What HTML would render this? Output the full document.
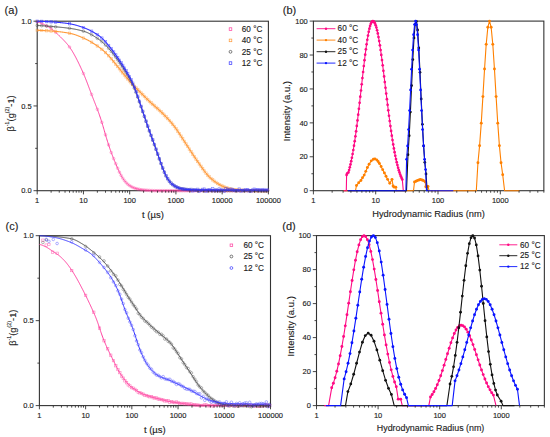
<!DOCTYPE html>
<html><head><meta charset="utf-8"><style>
html,body{margin:0;padding:0;background:#fff;}
body{width:550px;height:437px;overflow:hidden;}
svg{display:block;}
text{font-family:"Liberation Sans", sans-serif;stroke:#222;stroke-width:0.13px;}
</style></head><body>
<svg width="550" height="437" viewBox="0 0 550 437" font-family='"Liberation Sans", sans-serif' fill="#222"><rect width="550" height="437" fill="#fff"/><rect x="37.2" y="21.2" width="231.2" height="169.5" fill="none" stroke="#333" stroke-width="1.1"/><path d="M37.2 21.79 L37.59 21.87 L37.97 21.97 L38.36 22.08 L38.74 22.21 L39.13 22.34 L39.52 22.49 L39.9 22.64 L40.29 22.8 L40.67 22.97 L41.06 23.13 L41.45 23.3 L41.83 23.48 L42.22 23.66 L42.6 23.84 L42.99 24.02 L43.38 24.2 L43.76 24.39 L44.15 24.58 L44.53 24.77 L44.92 24.96 L45.31 25.16 L45.69 25.35 L46.08 25.55 L46.46 25.75 L46.85 25.96 L47.24 26.17 L47.62 26.38 L48.01 26.6 L48.39 26.82 L48.78 27.04 L49.17 27.27 L49.55 27.51 L49.94 27.75 L50.32 28.01 L50.71 28.27 L51.1 28.53 L51.48 28.81 L51.87 29.1 L52.25 29.39 L52.64 29.7 L53.03 30.01 L53.41 30.33 L53.8 30.66 L54.18 31 L54.57 31.35 L54.95 31.7 L55.34 32.05 L55.73 32.41 L56.11 32.77 L56.5 33.13 L56.88 33.49 L57.27 33.86 L57.66 34.23 L58.04 34.59 L58.43 34.96 L58.81 35.33 L59.2 35.7 L59.59 36.07 L59.97 36.45 L60.36 36.82 L60.74 37.2 L61.13 37.58 L61.52 37.97 L61.9 38.36 L62.29 38.75 L62.67 39.14 L63.06 39.54 L63.45 39.94 L63.83 40.35 L64.22 40.76 L64.6 41.17 L64.99 41.58 L65.38 42 L65.76 42.43 L66.15 42.86 L66.53 43.3 L66.92 43.74 L67.31 44.2 L67.69 44.66 L68.08 45.14 L68.46 45.63 L68.85 46.13 L69.24 46.65 L69.62 47.18 L70.01 47.72 L70.39 48.28 L70.78 48.85 L71.17 49.44 L71.55 50.04 L71.94 50.65 L72.32 51.28 L72.71 51.92 L73.1 52.58 L73.48 53.24 L73.87 53.92 L74.25 54.61 L74.64 55.3 L75.03 56.01 L75.41 56.73 L75.8 57.46 L76.18 58.2 L76.57 58.95 L76.96 59.71 L77.34 60.47 L77.73 61.25 L78.11 62.03 L78.5 62.82 L78.89 63.61 L79.27 64.42 L79.66 65.23 L80.04 66.04 L80.43 66.86 L80.82 67.69 L81.2 68.53 L81.59 69.37 L81.97 70.22 L82.36 71.07 L82.75 71.94 L83.13 72.81 L83.52 73.7 L83.9 74.6 L84.29 75.51 L84.68 76.43 L85.06 77.37 L85.45 78.33 L85.83 79.3 L86.22 80.28 L86.61 81.27 L86.99 82.27 L87.38 83.28 L87.76 84.3 L88.15 85.32 L88.53 86.35 L88.92 87.38 L89.31 88.41 L89.69 89.44 L90.08 90.46 L90.46 91.49 L90.85 92.51 L91.24 93.53 L91.62 94.54 L92.01 95.56 L92.39 96.56 L92.78 97.56 L93.17 98.56 L93.55 99.55 L93.94 100.54 L94.32 101.52 L94.71 102.5 L95.1 103.48 L95.48 104.46 L95.87 105.44 L96.25 106.42 L96.64 107.42 L97.03 108.42 L97.41 109.44 L97.8 110.47 L98.18 111.52 L98.57 112.58 L98.96 113.66 L99.34 114.76 L99.73 115.88 L100.11 117.02 L100.5 118.17 L100.89 119.35 L101.27 120.54 L101.66 121.76 L102.04 122.99 L102.43 124.25 L102.82 125.53 L103.2 126.83 L103.59 128.14 L103.97 129.47 L104.36 130.8 L104.75 132.14 L105.13 133.48 L105.52 134.81 L105.9 136.12 L106.29 137.43 L106.68 138.72 L107.06 139.98 L107.45 141.23 L107.83 142.46 L108.22 143.67 L108.61 144.86 L108.99 146.03 L109.38 147.17 L109.76 148.3 L110.15 149.41 L110.54 150.5 L110.92 151.57 L111.31 152.63 L111.69 153.66 L112.08 154.67 L112.47 155.67 L112.85 156.66 L113.24 157.63 L113.62 158.59 L114.01 159.54 L114.4 160.49 L114.78 161.43 L115.17 162.36 L115.55 163.29 L115.94 164.22 L116.33 165.14 L116.71 166.06 L117.1 166.96 L117.48 167.86 L117.87 168.74 L118.26 169.61 L118.64 170.46 L119.03 171.3 L119.41 172.11 L119.8 172.9 L120.18 173.67 L120.57 174.41 L120.96 175.14 L121.34 175.84 L121.73 176.52 L122.11 177.17 L122.5 177.81 L122.89 178.42 L123.27 179 L123.66 179.56 L124.04 180.1 L124.43 180.62 L124.82 181.11 L125.2 181.58 L125.59 182.04 L125.97 182.47 L126.36 182.88 L126.75 183.27 L127.13 183.64 L127.52 183.99 L127.9 184.33 L128.29 184.65 L128.68 184.95 L129.06 185.23 L129.45 185.51 L129.83 185.77 L130.22 186.01 L130.61 186.25 L130.99 186.48 L131.38 186.69 L131.76 186.9 L132.15 187.1 L132.54 187.29 L132.92 187.46 L133.31 187.63 L133.69 187.79 L134.08 187.94 L134.47 188.08 L134.85 188.22 L135.24 188.34 L135.62 188.46 L136.01 188.58 L136.4 188.69 L136.78 188.79 L137.17 188.89 L137.55 188.98 L137.94 189.08 L138.33 189.17 L138.71 189.25 L139.1 189.33 L139.48 189.41 L139.87 189.48 L140.26 189.55 L140.64 189.62 L141.03 189.68 L141.41 189.74 L141.8 189.79 L142.19 189.85 L142.57 189.89 L142.96 189.94 L143.34 189.98 L143.73 190.02 L144.12 190.05 L144.5 190.09 L144.89 190.12 L145.27 190.15 L145.66 190.18 L146.05 190.21 L146.43 190.24 L146.82 190.27 L147.2 190.3 L147.59 190.32 L147.98 190.35 L148.36 190.37 L148.75 190.4 L149.13 190.42 L149.52 190.44 L149.91 190.46 L150.29 190.49 L150.68 190.51 L151.06 190.52 L151.45 190.54 L151.84 190.56 L152.22 190.58 L152.61 190.59 L152.99 190.61 L153.38 190.62 L153.76 190.63 L154.15 190.64 L154.54 190.65 L154.92 190.66 L155.31 190.67 L155.69 190.68 L156.08 190.68 L156.47 190.69 L156.85 190.69 L157.24 190.69 L157.62 190.7 L158.01 190.7 L158.4 190.7 L158.78 190.7 L159.17 190.7 L159.55 190.7 L159.94 190.7 L160.33 190.7 L160.71 190.7 L161.1 190.7 L161.48 190.7 L161.87 190.7 L162.26 190.7 L162.64 190.7 L163.03 190.7 L163.41 190.7 L163.8 190.7 L164.19 190.7 L164.57 190.7 L164.96 190.7 L165.34 190.7 L165.73 190.7 L166.12 190.7 L166.5 190.7 L166.89 190.7 L167.27 190.7 L167.66 190.7 L168.05 190.7 L168.43 190.7 L168.82 190.7 L169.2 190.7 L169.59 190.7 L169.98 190.7 L170.36 190.7 L170.75 190.7 L171.13 190.7 L171.52 190.7 L171.91 190.7 L172.29 190.7 L172.68 190.7 L173.06 190.7 L173.45 190.7 L173.84 190.7 L174.22 190.7 L174.61 190.7 L174.99 190.7 L175.38 190.7 L175.77 190.7 L176.15 190.7 L176.54 190.7 L176.92 190.7 L177.31 190.7 L177.7 190.7 L178.08 190.7 L178.47 190.7 L178.85 190.7 L179.24 190.7 L179.63 190.7 L180.01 190.7 L180.4 190.7 L180.78 190.7 L181.17 190.7 L181.56 190.7 L181.94 190.7 L182.33 190.7 L182.71 190.7 L183.1 190.7 L183.49 190.7 L183.87 190.7 L184.26 190.7 L184.64 190.7 L185.03 190.7 L185.42 190.7 L185.8 190.7 L186.19 190.7 L186.57 190.7 L186.96 190.7 L187.34 190.7 L187.73 190.7 L188.12 190.7 L188.5 190.7 L188.89 190.7 L189.27 190.7 L189.66 190.7 L190.05 190.7 L190.43 190.7 L190.82 190.7 L191.2 190.7 L191.59 190.7 L191.98 190.7 L192.36 190.7 L192.75 190.7 L193.13 190.7 L193.52 190.7 L193.91 190.7 L194.29 190.7 L194.68 190.7 L195.06 190.7 L195.45 190.7 L195.84 190.7 L196.22 190.7 L196.61 190.7 L196.99 190.7 L197.38 190.7 L197.77 190.7 L198.15 190.7 L198.54 190.7 L198.92 190.7 L199.31 190.7 L199.7 190.7 L200.08 190.7 L200.47 190.7 L200.85 190.7 L201.24 190.7 L201.63 190.7 L202.01 190.7 L202.4 190.7 L202.78 190.7 L203.17 190.7 L203.56 190.7 L203.94 190.7 L204.33 190.7 L204.71 190.7 L205.1 190.7 L205.49 190.7 L205.87 190.7 L206.26 190.7 L206.64 190.7 L207.03 190.7 L207.42 190.7 L207.8 190.7 L208.19 190.7 L208.57 190.7 L208.96 190.7 L209.35 190.7 L209.73 190.7 L210.12 190.7 L210.5 190.7 L210.89 190.7 L211.28 190.7 L211.66 190.7 L212.05 190.7 L212.43 190.7 L212.82 190.7 L213.21 190.7 L213.59 190.7 L213.98 190.7 L214.36 190.7 L214.75 190.7 L215.14 190.7 L215.52 190.7 L215.91 190.7 L216.29 190.7 L216.68 190.7 L217.07 190.7 L217.45 190.7 L217.84 190.7 L218.22 190.7 L218.61 190.7 L218.99 190.7 L219.38 190.7 L219.77 190.7 L220.15 190.7 L220.54 190.7 L220.92 190.7 L221.31 190.7 L221.7 190.7 L222.08 190.7 L222.47 190.7 L222.85 190.7 L223.24 190.7 L223.63 190.7 L224.01 190.7 L224.4 190.7 L224.78 190.7 L225.17 190.7 L225.56 190.7 L225.94 190.7 L226.33 190.7 L226.71 190.7 L227.1 190.7 L227.49 190.7 L227.87 190.7 L228.26 190.7 L228.64 190.7 L229.03 190.7 L229.42 190.7 L229.8 190.7 L230.19 190.7 L230.57 190.7 L230.96 190.7 L231.35 190.7 L231.73 190.7 L232.12 190.7 L232.5 190.7 L232.89 190.7 L233.28 190.7 L233.66 190.7 L234.05 190.7 L234.43 190.7 L234.82 190.7 L235.21 190.7 L235.59 190.7 L235.98 190.7 L236.36 190.7 L236.75 190.7 L237.14 190.7 L237.52 190.7 L237.91 190.7 L238.29 190.7 L238.68 190.7 L239.07 190.7 L239.45 190.7 L239.84 190.7 L240.22 190.7 L240.61 190.7 L241 190.7 L241.38 190.7 L241.77 190.7 L242.15 190.7 L242.54 190.7 L242.93 190.7 L243.31 190.7 L243.7 190.7 L244.08 190.7 L244.47 190.7 L244.86 190.7 L245.24 190.7 L245.63 190.7 L246.01 190.7 L246.4 190.7 L246.79 190.7 L247.17 190.7 L247.56 190.7 L247.94 190.7 L248.33 190.7 L248.72 190.7 L249.1 190.7 L249.49 190.7 L249.87 190.7 L250.26 190.7 L250.65 190.7 L251.03 190.7 L251.42 190.7 L251.8 190.7 L252.19 190.7 L252.57 190.7 L252.96 190.7 L253.35 190.7 L253.73 190.7 L254.12 190.7 L254.5 190.7 L254.89 190.7 L255.28 190.7 L255.66 190.7 L256.05 190.7 L256.43 190.7 L256.82 190.7 L257.21 190.7 L257.59 190.7 L257.98 190.7 L258.36 190.7 L258.75 190.7 L259.14 190.7 L259.52 190.7 L259.91 190.7 L260.29 190.7 L260.68 190.7 L261.07 190.7 L261.45 190.7 L261.84 190.7 L262.22 190.7 L262.61 190.7 L263 190.7 L263.38 190.7 L263.77 190.7 L264.15 190.7 L264.54 190.7 L264.93 190.7 L265.31 190.7 L265.7 190.7 L266.08 190.7 L266.47 190.7 L266.86 190.7 L267.24 190.7 L267.63 190.7 L268.01 190.7 L268.4 190.7" fill="none" stroke="#ff3d9e" stroke-width="1.0"/><g fill="none" stroke="#ff3d9e" stroke-width="0.6" opacity="0.65"><circle cx="37.2" cy="21.79" r="1.3"/><circle cx="41.68" cy="23.41" r="1.3"/><circle cx="46.64" cy="25.85" r="1.3"/><circle cx="51.12" cy="28.55" r="1.3"/><circle cx="55.6" cy="32.29" r="1.3"/><circle cx="69.52" cy="47.03" r="1.3"/><circle cx="83.44" cy="73.52" r="1.3"/><circle cx="91.58" cy="94.44" r="1.3"/><circle cx="97.36" cy="109.3" r="1.3"/><circle cx="101.84" cy="122.34" r="1.3"/><circle cx="105.5" cy="134.75" r="1.3"/><circle cx="108.6" cy="144.83" r="1.3"/><circle cx="111.28" cy="152.55" r="1.3"/><circle cx="113.64" cy="158.64" r="1.3"/><circle cx="115.76" cy="163.79" r="1.3"/><circle cx="117.67" cy="168.3" r="1.3"/><circle cx="119.42" cy="172.13" r="1.3"/><circle cx="121.09" cy="175.37" r="1.3"/><circle cx="122.75" cy="178.2" r="1.3"/><circle cx="124.42" cy="180.6" r="1.3"/><circle cx="126.08" cy="182.58" r="1.3"/><circle cx="127.74" cy="184.19" r="1.3"/><circle cx="129.41" cy="185.48" r="1.3"/><circle cx="131.07" cy="186.52" r="1.3"/><circle cx="132.74" cy="187.38" r="1.3"/><circle cx="134.4" cy="188.06" r="1.3"/><circle cx="136.07" cy="188.59" r="1.3"/><circle cx="137.73" cy="189.03" r="1.3"/><circle cx="139.4" cy="189.39" r="1.3"/><circle cx="141.06" cy="189.69" r="1.3"/><circle cx="142.73" cy="189.91" r="1.3"/><circle cx="144.39" cy="190.08" r="1.3"/><circle cx="146.06" cy="190.21" r="1.3"/><circle cx="147.72" cy="190.33" r="1.3"/><circle cx="149.39" cy="190.44" r="1.3"/><circle cx="151.05" cy="190.52" r="1.3"/><circle cx="152.71" cy="190.6" r="1.3"/><circle cx="154.38" cy="190.65" r="1.3"/><circle cx="156.04" cy="190.68" r="1.3"/><circle cx="157.71" cy="190.7" r="1.3"/><circle cx="159.37" cy="190.7" r="1.3"/><circle cx="161.04" cy="190.7" r="1.3"/><circle cx="162.7" cy="190.7" r="1.3"/><circle cx="164.37" cy="190.7" r="1.3"/><circle cx="166.03" cy="190.7" r="1.3"/><circle cx="167.7" cy="190.7" r="1.3"/><circle cx="169.36" cy="190.7" r="1.3"/><circle cx="171.03" cy="190.7" r="1.3"/><circle cx="172.69" cy="190.7" r="1.3"/><circle cx="174.35" cy="190.7" r="1.3"/><circle cx="176.02" cy="190.7" r="1.3"/><circle cx="177.68" cy="190.7" r="1.3"/><circle cx="179.35" cy="190.7" r="1.3"/><circle cx="181.01" cy="190.7" r="1.3"/><circle cx="182.68" cy="190.7" r="1.3"/><circle cx="184.34" cy="190.7" r="1.3"/><circle cx="186.01" cy="190.7" r="1.3"/><circle cx="187.67" cy="190.7" r="1.3"/><circle cx="189.34" cy="190.7" r="1.3"/><circle cx="191" cy="190.7" r="1.3"/><circle cx="192.67" cy="190.7" r="1.3"/><circle cx="194.33" cy="190.7" r="1.3"/><circle cx="196" cy="190.7" r="1.3"/><circle cx="197.66" cy="190.7" r="1.3"/><circle cx="199.32" cy="190.7" r="1.3"/><circle cx="200.99" cy="190.7" r="1.3"/><circle cx="202.65" cy="190.7" r="1.3"/><circle cx="204.32" cy="190.7" r="1.3"/><circle cx="205.98" cy="190.7" r="1.3"/><circle cx="207.65" cy="190.7" r="1.3"/><circle cx="209.31" cy="190.7" r="1.3"/><circle cx="210.98" cy="190.7" r="1.3"/><circle cx="212.64" cy="190.7" r="1.3"/><circle cx="214.31" cy="190.7" r="1.3"/><circle cx="215.97" cy="190.7" r="1.3"/><circle cx="217.64" cy="190.7" r="1.3"/><circle cx="219.3" cy="190.7" r="1.3"/><circle cx="220.96" cy="190.7" r="1.3"/><circle cx="222.63" cy="190.7" r="1.3"/><circle cx="224.29" cy="190.7" r="1.3"/><circle cx="225.96" cy="190.7" r="1.3"/><circle cx="227.62" cy="190.7" r="1.3"/><circle cx="229.29" cy="190.7" r="1.3"/><circle cx="230.95" cy="190.7" r="1.3"/><circle cx="232.62" cy="190.7" r="1.3"/><circle cx="234.28" cy="190.7" r="1.3"/><circle cx="235.95" cy="190.7" r="1.3"/><circle cx="237.61" cy="190.7" r="1.3"/><circle cx="239.28" cy="190.7" r="1.3"/><circle cx="240.94" cy="190.7" r="1.3"/><circle cx="242.61" cy="190.7" r="1.3"/><circle cx="244.27" cy="190.7" r="1.3"/><circle cx="245.93" cy="190.7" r="1.3"/><circle cx="247.6" cy="190.7" r="1.3"/><circle cx="249.26" cy="190.7" r="1.3"/><circle cx="250.93" cy="190.7" r="1.3"/><circle cx="252.59" cy="190.7" r="1.3"/><circle cx="254.26" cy="190.7" r="1.3"/><circle cx="255.92" cy="190.7" r="1.3"/><circle cx="257.59" cy="190.7" r="1.3"/><circle cx="259.25" cy="190.7" r="1.3"/><circle cx="260.92" cy="190.7" r="1.3"/><circle cx="262.58" cy="190.7" r="1.3"/><circle cx="264.25" cy="190.7" r="1.3"/><circle cx="265.91" cy="190.7" r="1.3"/><circle cx="267.57" cy="190.7" r="1.3"/></g><path d="M37.2 30.37 L37.59 30.37 L37.97 30.38 L38.36 30.39 L38.74 30.39 L39.13 30.4 L39.52 30.41 L39.9 30.42 L40.29 30.44 L40.67 30.45 L41.06 30.46 L41.45 30.48 L41.83 30.49 L42.22 30.51 L42.6 30.52 L42.99 30.54 L43.38 30.56 L43.76 30.58 L44.15 30.6 L44.53 30.62 L44.92 30.64 L45.31 30.66 L45.69 30.68 L46.08 30.7 L46.46 30.72 L46.85 30.74 L47.24 30.77 L47.62 30.79 L48.01 30.81 L48.39 30.84 L48.78 30.86 L49.17 30.89 L49.55 30.91 L49.94 30.94 L50.32 30.96 L50.71 30.99 L51.1 31.01 L51.48 31.04 L51.87 31.07 L52.25 31.1 L52.64 31.12 L53.03 31.15 L53.41 31.18 L53.8 31.21 L54.18 31.25 L54.57 31.28 L54.95 31.31 L55.34 31.34 L55.73 31.38 L56.11 31.41 L56.5 31.45 L56.88 31.49 L57.27 31.53 L57.66 31.56 L58.04 31.6 L58.43 31.65 L58.81 31.69 L59.2 31.73 L59.59 31.77 L59.97 31.82 L60.36 31.86 L60.74 31.91 L61.13 31.96 L61.52 32 L61.9 32.05 L62.29 32.1 L62.67 32.15 L63.06 32.21 L63.45 32.26 L63.83 32.31 L64.22 32.37 L64.6 32.43 L64.99 32.48 L65.38 32.54 L65.76 32.6 L66.15 32.66 L66.53 32.72 L66.92 32.79 L67.31 32.85 L67.69 32.92 L68.08 32.98 L68.46 33.05 L68.85 33.12 L69.24 33.2 L69.62 33.27 L70.01 33.35 L70.39 33.43 L70.78 33.52 L71.17 33.61 L71.55 33.7 L71.94 33.8 L72.32 33.9 L72.71 34 L73.1 34.11 L73.48 34.22 L73.87 34.34 L74.25 34.46 L74.64 34.58 L75.03 34.71 L75.41 34.83 L75.8 34.97 L76.18 35.1 L76.57 35.24 L76.96 35.38 L77.34 35.53 L77.73 35.67 L78.11 35.82 L78.5 35.97 L78.89 36.12 L79.27 36.28 L79.66 36.44 L80.04 36.59 L80.43 36.75 L80.82 36.91 L81.2 37.08 L81.59 37.24 L81.97 37.41 L82.36 37.57 L82.75 37.74 L83.13 37.91 L83.52 38.08 L83.9 38.25 L84.29 38.43 L84.68 38.6 L85.06 38.78 L85.45 38.96 L85.83 39.15 L86.22 39.33 L86.61 39.52 L86.99 39.71 L87.38 39.91 L87.76 40.11 L88.15 40.31 L88.53 40.51 L88.92 40.72 L89.31 40.93 L89.69 41.14 L90.08 41.36 L90.46 41.58 L90.85 41.8 L91.24 42.02 L91.62 42.25 L92.01 42.48 L92.39 42.71 L92.78 42.95 L93.17 43.19 L93.55 43.43 L93.94 43.67 L94.32 43.92 L94.71 44.17 L95.1 44.42 L95.48 44.67 L95.87 44.93 L96.25 45.19 L96.64 45.45 L97.03 45.72 L97.41 45.98 L97.8 46.25 L98.18 46.53 L98.57 46.8 L98.96 47.08 L99.34 47.37 L99.73 47.66 L100.11 47.95 L100.5 48.25 L100.89 48.55 L101.27 48.86 L101.66 49.17 L102.04 49.49 L102.43 49.82 L102.82 50.15 L103.2 50.49 L103.59 50.84 L103.97 51.19 L104.36 51.54 L104.75 51.9 L105.13 52.27 L105.52 52.64 L105.9 53.01 L106.29 53.39 L106.68 53.78 L107.06 54.17 L107.45 54.56 L107.83 54.96 L108.22 55.36 L108.61 55.77 L108.99 56.19 L109.38 56.61 L109.76 57.03 L110.15 57.47 L110.54 57.91 L110.92 58.35 L111.31 58.8 L111.69 59.25 L112.08 59.71 L112.47 60.17 L112.85 60.64 L113.24 61.11 L113.62 61.58 L114.01 62.05 L114.4 62.52 L114.78 62.99 L115.17 63.47 L115.55 63.94 L115.94 64.41 L116.33 64.89 L116.71 65.36 L117.1 65.84 L117.48 66.32 L117.87 66.79 L118.26 67.27 L118.64 67.75 L119.03 68.23 L119.41 68.72 L119.8 69.2 L120.18 69.68 L120.57 70.17 L120.96 70.65 L121.34 71.13 L121.73 71.61 L122.11 72.1 L122.5 72.57 L122.89 73.05 L123.27 73.53 L123.66 74 L124.04 74.47 L124.43 74.95 L124.82 75.41 L125.2 75.88 L125.59 76.35 L125.97 76.81 L126.36 77.27 L126.75 77.74 L127.13 78.2 L127.52 78.65 L127.9 79.11 L128.29 79.57 L128.68 80.02 L129.06 80.47 L129.45 80.92 L129.83 81.36 L130.22 81.81 L130.61 82.25 L130.99 82.68 L131.38 83.11 L131.76 83.54 L132.15 83.96 L132.54 84.38 L132.92 84.79 L133.31 85.2 L133.69 85.6 L134.08 86 L134.47 86.39 L134.85 86.79 L135.24 87.17 L135.62 87.56 L136.01 87.95 L136.4 88.33 L136.78 88.72 L137.17 89.1 L137.55 89.49 L137.94 89.87 L138.33 90.26 L138.71 90.65 L139.1 91.04 L139.48 91.43 L139.87 91.82 L140.26 92.21 L140.64 92.6 L141.03 92.99 L141.41 93.38 L141.8 93.77 L142.19 94.16 L142.57 94.55 L142.96 94.94 L143.34 95.33 L143.73 95.72 L144.12 96.11 L144.5 96.5 L144.89 96.89 L145.27 97.27 L145.66 97.66 L146.05 98.04 L146.43 98.42 L146.82 98.8 L147.2 99.18 L147.59 99.56 L147.98 99.94 L148.36 100.31 L148.75 100.68 L149.13 101.05 L149.52 101.42 L149.91 101.79 L150.29 102.15 L150.68 102.51 L151.06 102.87 L151.45 103.22 L151.84 103.57 L152.22 103.92 L152.61 104.27 L152.99 104.61 L153.38 104.95 L153.76 105.29 L154.15 105.63 L154.54 105.97 L154.92 106.31 L155.31 106.65 L155.69 106.99 L156.08 107.32 L156.47 107.66 L156.85 108 L157.24 108.34 L157.62 108.69 L158.01 109.03 L158.4 109.38 L158.78 109.73 L159.17 110.08 L159.55 110.43 L159.94 110.79 L160.33 111.15 L160.71 111.52 L161.1 111.88 L161.48 112.25 L161.87 112.63 L162.26 113.01 L162.64 113.39 L163.03 113.77 L163.41 114.16 L163.8 114.55 L164.19 114.94 L164.57 115.33 L164.96 115.73 L165.34 116.12 L165.73 116.53 L166.12 116.93 L166.5 117.33 L166.89 117.74 L167.27 118.16 L167.66 118.57 L168.05 118.99 L168.43 119.41 L168.82 119.84 L169.2 120.27 L169.59 120.7 L169.98 121.14 L170.36 121.58 L170.75 122.02 L171.13 122.47 L171.52 122.93 L171.91 123.39 L172.29 123.85 L172.68 124.33 L173.06 124.8 L173.45 125.29 L173.84 125.78 L174.22 126.28 L174.61 126.78 L174.99 127.29 L175.38 127.81 L175.77 128.34 L176.15 128.88 L176.54 129.43 L176.92 129.98 L177.31 130.54 L177.7 131.1 L178.08 131.67 L178.47 132.25 L178.85 132.83 L179.24 133.42 L179.63 134.01 L180.01 134.61 L180.4 135.2 L180.78 135.8 L181.17 136.41 L181.56 137.01 L181.94 137.61 L182.33 138.22 L182.71 138.82 L183.1 139.42 L183.49 140.03 L183.87 140.63 L184.26 141.23 L184.64 141.82 L185.03 142.42 L185.42 143.01 L185.8 143.6 L186.19 144.2 L186.57 144.79 L186.96 145.38 L187.34 145.97 L187.73 146.56 L188.12 147.15 L188.5 147.74 L188.89 148.33 L189.27 148.93 L189.66 149.52 L190.05 150.12 L190.43 150.71 L190.82 151.3 L191.2 151.9 L191.59 152.49 L191.98 153.08 L192.36 153.67 L192.75 154.26 L193.13 154.85 L193.52 155.43 L193.91 156.02 L194.29 156.59 L194.68 157.17 L195.06 157.75 L195.45 158.32 L195.84 158.88 L196.22 159.45 L196.61 160.01 L196.99 160.57 L197.38 161.13 L197.77 161.68 L198.15 162.23 L198.54 162.79 L198.92 163.34 L199.31 163.89 L199.7 164.44 L200.08 165 L200.47 165.55 L200.85 166.1 L201.24 166.65 L201.63 167.2 L202.01 167.75 L202.4 168.3 L202.78 168.84 L203.17 169.38 L203.56 169.91 L203.94 170.44 L204.33 170.97 L204.71 171.48 L205.1 171.99 L205.49 172.49 L205.87 172.99 L206.26 173.47 L206.64 173.94 L207.03 174.4 L207.42 174.85 L207.8 175.29 L208.19 175.72 L208.57 176.13 L208.96 176.53 L209.35 176.92 L209.73 177.3 L210.12 177.67 L210.5 178.03 L210.89 178.38 L211.28 178.72 L211.66 179.06 L212.05 179.38 L212.43 179.71 L212.82 180.02 L213.21 180.33 L213.59 180.64 L213.98 180.94 L214.36 181.23 L214.75 181.52 L215.14 181.81 L215.52 182.08 L215.91 182.36 L216.29 182.62 L216.68 182.89 L217.07 183.14 L217.45 183.39 L217.84 183.64 L218.22 183.88 L218.61 184.11 L218.99 184.34 L219.38 184.56 L219.77 184.77 L220.15 184.98 L220.54 185.18 L220.92 185.38 L221.31 185.58 L221.7 185.76 L222.08 185.95 L222.47 186.13 L222.85 186.3 L223.24 186.47 L223.63 186.64 L224.01 186.81 L224.4 186.97 L224.78 187.13 L225.17 187.28 L225.56 187.43 L225.94 187.58 L226.33 187.73 L226.71 187.87 L227.1 188 L227.49 188.13 L227.87 188.25 L228.26 188.37 L228.64 188.49 L229.03 188.6 L229.42 188.7 L229.8 188.79 L230.19 188.88 L230.57 188.97 L230.96 189.05 L231.35 189.13 L231.73 189.2 L232.12 189.26 L232.5 189.33 L232.89 189.39 L233.28 189.45 L233.66 189.5 L234.05 189.56 L234.43 189.61 L234.82 189.66 L235.21 189.72 L235.59 189.76 L235.98 189.81 L236.36 189.86 L236.75 189.9 L237.14 189.94 L237.52 189.98 L237.91 190.02 L238.29 190.06 L238.68 190.09 L239.07 190.13 L239.45 190.16 L239.84 190.19 L240.22 190.21 L240.61 190.24 L241 190.26 L241.38 190.28 L241.77 190.3 L242.15 190.32 L242.54 190.33 L242.93 190.35 L243.31 190.36 L243.7 190.37 L244.08 190.39 L244.47 190.4 L244.86 190.41 L245.24 190.42 L245.63 190.43 L246.01 190.43 L246.4 190.44 L246.79 190.45 L247.17 190.46 L247.56 190.47 L247.94 190.48 L248.33 190.49 L248.72 190.49 L249.1 190.5 L249.49 190.51 L249.87 190.52 L250.26 190.52 L250.65 190.53 L251.03 190.54 L251.42 190.55 L251.8 190.55 L252.19 190.56 L252.57 190.57 L252.96 190.57 L253.35 190.58 L253.73 190.58 L254.12 190.59 L254.5 190.6 L254.89 190.6 L255.28 190.61 L255.66 190.61 L256.05 190.62 L256.43 190.62 L256.82 190.63 L257.21 190.63 L257.59 190.64 L257.98 190.64 L258.36 190.64 L258.75 190.65 L259.14 190.65 L259.52 190.66 L259.91 190.66 L260.29 190.66 L260.68 190.67 L261.07 190.67 L261.45 190.67 L261.84 190.68 L262.22 190.68 L262.61 190.68 L263 190.68 L263.38 190.68 L263.77 190.69 L264.15 190.69 L264.54 190.69 L264.93 190.69 L265.31 190.69 L265.7 190.69 L266.08 190.7 L266.47 190.7 L266.86 190.7 L267.24 190.7 L267.63 190.7 L268.01 190.7 L268.4 190.7" fill="none" stroke="#ff9a3a" stroke-width="1.1"/><g fill="none" stroke="#ff9a3a" stroke-width="0.6" opacity="0.65"><rect x="36" y="29.17" width="2.4" height="2.4"/><rect x="40.48" y="29.29" width="2.4" height="2.4"/><rect x="45.44" y="29.53" width="2.4" height="2.4"/><rect x="49.92" y="29.82" width="2.4" height="2.4"/><rect x="54.4" y="30.17" width="2.4" height="2.4"/><rect x="68.32" y="32.05" width="2.4" height="2.4"/><rect x="82.24" y="36.85" width="2.4" height="2.4"/><rect x="90.38" y="41.02" width="2.4" height="2.4"/><rect x="96.16" y="44.75" width="2.4" height="2.4"/><rect x="100.64" y="48.12" width="2.4" height="2.4"/><rect x="104.3" y="51.42" width="2.4" height="2.4"/><rect x="107.4" y="54.56" width="2.4" height="2.4"/><rect x="110.08" y="57.57" width="2.4" height="2.4"/><rect x="112.44" y="60.4" width="2.4" height="2.4"/><rect x="114.56" y="62.99" width="2.4" height="2.4"/><rect x="116.47" y="65.35" width="2.4" height="2.4"/><rect x="118.22" y="67.53" width="2.4" height="2.4"/><rect x="119.89" y="69.61" width="2.4" height="2.4"/><rect x="121.55" y="71.68" width="2.4" height="2.4"/><rect x="123.22" y="73.73" width="2.4" height="2.4"/><rect x="124.88" y="75.74" width="2.4" height="2.4"/><rect x="126.54" y="77.72" width="2.4" height="2.4"/><rect x="128.21" y="79.67" width="2.4" height="2.4"/><rect x="129.87" y="81.57" width="2.4" height="2.4"/><rect x="131.54" y="83.39" width="2.4" height="2.4"/><rect x="133.2" y="85.13" width="2.4" height="2.4"/><rect x="134.87" y="86.8" width="2.4" height="2.4"/><rect x="136.53" y="88.47" width="2.4" height="2.4"/><rect x="138.2" y="90.14" width="2.4" height="2.4"/><rect x="139.86" y="91.82" width="2.4" height="2.4"/><rect x="141.53" y="93.51" width="2.4" height="2.4"/><rect x="143.19" y="95.19" width="2.4" height="2.4"/><rect x="144.86" y="96.85" width="2.4" height="2.4"/><rect x="146.52" y="98.49" width="2.4" height="2.4"/><rect x="148.19" y="100.09" width="2.4" height="2.4"/><rect x="149.85" y="101.65" width="2.4" height="2.4"/><rect x="151.51" y="103.16" width="2.4" height="2.4"/><rect x="153.18" y="104.63" width="2.4" height="2.4"/><rect x="154.84" y="106.09" width="2.4" height="2.4"/><rect x="156.51" y="107.56" width="2.4" height="2.4"/><rect x="158.17" y="109.06" width="2.4" height="2.4"/><rect x="159.84" y="110.63" width="2.4" height="2.4"/><rect x="161.5" y="112.25" width="2.4" height="2.4"/><rect x="163.17" y="113.92" width="2.4" height="2.4"/><rect x="164.83" y="115.64" width="2.4" height="2.4"/><rect x="166.5" y="117.41" width="2.4" height="2.4"/><rect x="168.16" y="119.24" width="2.4" height="2.4"/><rect x="169.83" y="121.15" width="2.4" height="2.4"/><rect x="171.49" y="123.14" width="2.4" height="2.4"/><rect x="173.15" y="125.25" width="2.4" height="2.4"/><rect x="174.82" y="127.5" width="2.4" height="2.4"/><rect x="176.48" y="129.89" width="2.4" height="2.4"/><rect x="178.15" y="132.39" width="2.4" height="2.4"/><rect x="179.81" y="134.96" width="2.4" height="2.4"/><rect x="181.48" y="137.57" width="2.4" height="2.4"/><rect x="183.14" y="140.16" width="2.4" height="2.4"/><rect x="184.81" y="142.72" width="2.4" height="2.4"/><rect x="186.47" y="145.27" width="2.4" height="2.4"/><rect x="188.14" y="147.82" width="2.4" height="2.4"/><rect x="189.8" y="150.38" width="2.4" height="2.4"/><rect x="191.47" y="152.93" width="2.4" height="2.4"/><rect x="193.13" y="155.45" width="2.4" height="2.4"/><rect x="194.8" y="157.92" width="2.4" height="2.4"/><rect x="196.46" y="160.33" width="2.4" height="2.4"/><rect x="198.12" y="162.71" width="2.4" height="2.4"/><rect x="199.79" y="165.09" width="2.4" height="2.4"/><rect x="201.45" y="167.46" width="2.4" height="2.4"/><rect x="203.12" y="169.75" width="2.4" height="2.4"/><rect x="204.78" y="171.93" width="2.4" height="2.4"/><rect x="206.45" y="173.92" width="2.4" height="2.4"/><rect x="208.11" y="175.69" width="2.4" height="2.4"/><rect x="209.78" y="177.26" width="2.4" height="2.4"/><rect x="211.44" y="178.68" width="2.4" height="2.4"/><rect x="213.11" y="179.99" width="2.4" height="2.4"/><rect x="214.77" y="181.2" width="2.4" height="2.4"/><rect x="216.44" y="182.31" width="2.4" height="2.4"/><rect x="218.1" y="183.31" width="2.4" height="2.4"/><rect x="219.76" y="184.2" width="2.4" height="2.4"/><rect x="221.43" y="185" width="2.4" height="2.4"/><rect x="223.09" y="185.73" width="2.4" height="2.4"/><rect x="224.76" y="186.39" width="2.4" height="2.4"/><rect x="226.42" y="186.97" width="2.4" height="2.4"/><rect x="228.09" y="187.46" width="2.4" height="2.4"/><rect x="229.75" y="187.85" width="2.4" height="2.4"/><rect x="231.42" y="188.15" width="2.4" height="2.4"/><rect x="233.08" y="188.39" width="2.4" height="2.4"/><rect x="234.75" y="188.61" width="2.4" height="2.4"/><rect x="236.41" y="188.79" width="2.4" height="2.4"/><rect x="238.08" y="188.94" width="2.4" height="2.4"/><rect x="239.74" y="189.06" width="2.4" height="2.4"/><rect x="241.41" y="189.14" width="2.4" height="2.4"/><rect x="243.07" y="189.19" width="2.4" height="2.4"/><rect x="244.73" y="189.23" width="2.4" height="2.4"/><rect x="246.4" y="189.27" width="2.4" height="2.4"/><rect x="248.06" y="189.3" width="2.4" height="2.4"/><rect x="249.73" y="189.34" width="2.4" height="2.4"/><rect x="251.39" y="189.37" width="2.4" height="2.4"/><rect x="253.06" y="189.39" width="2.4" height="2.4"/><rect x="254.72" y="189.42" width="2.4" height="2.4"/><rect x="256.39" y="189.44" width="2.4" height="2.4"/><rect x="258.05" y="189.45" width="2.4" height="2.4"/><rect x="259.72" y="189.47" width="2.4" height="2.4"/><rect x="261.38" y="189.48" width="2.4" height="2.4"/><rect x="263.05" y="189.49" width="2.4" height="2.4"/><rect x="264.71" y="189.5" width="2.4" height="2.4"/><rect x="266.37" y="189.5" width="2.4" height="2.4"/></g><path d="M37.2 25.48 L37.59 25.49 L37.97 25.5 L38.36 25.52 L38.74 25.54 L39.13 25.56 L39.52 25.58 L39.9 25.61 L40.29 25.63 L40.67 25.65 L41.06 25.68 L41.45 25.71 L41.83 25.73 L42.22 25.76 L42.6 25.78 L42.99 25.81 L43.38 25.84 L43.76 25.86 L44.15 25.89 L44.53 25.92 L44.92 25.95 L45.31 25.98 L45.69 26 L46.08 26.03 L46.46 26.06 L46.85 26.09 L47.24 26.12 L47.62 26.15 L48.01 26.18 L48.39 26.21 L48.78 26.24 L49.17 26.27 L49.55 26.3 L49.94 26.34 L50.32 26.37 L50.71 26.4 L51.1 26.43 L51.48 26.46 L51.87 26.49 L52.25 26.53 L52.64 26.56 L53.03 26.59 L53.41 26.62 L53.8 26.66 L54.18 26.69 L54.57 26.72 L54.95 26.76 L55.34 26.79 L55.73 26.82 L56.11 26.86 L56.5 26.89 L56.88 26.93 L57.27 26.96 L57.66 27 L58.04 27.03 L58.43 27.07 L58.81 27.1 L59.2 27.14 L59.59 27.18 L59.97 27.21 L60.36 27.25 L60.74 27.29 L61.13 27.33 L61.52 27.37 L61.9 27.41 L62.29 27.45 L62.67 27.49 L63.06 27.53 L63.45 27.57 L63.83 27.61 L64.22 27.66 L64.6 27.7 L64.99 27.74 L65.38 27.79 L65.76 27.83 L66.15 27.88 L66.53 27.93 L66.92 27.98 L67.31 28.03 L67.69 28.07 L68.08 28.12 L68.46 28.18 L68.85 28.23 L69.24 28.28 L69.62 28.34 L70.01 28.39 L70.39 28.45 L70.78 28.5 L71.17 28.56 L71.55 28.62 L71.94 28.68 L72.32 28.74 L72.71 28.81 L73.1 28.87 L73.48 28.93 L73.87 29 L74.25 29.07 L74.64 29.14 L75.03 29.21 L75.41 29.28 L75.8 29.36 L76.18 29.43 L76.57 29.51 L76.96 29.59 L77.34 29.67 L77.73 29.75 L78.11 29.84 L78.5 29.92 L78.89 30.01 L79.27 30.1 L79.66 30.19 L80.04 30.29 L80.43 30.38 L80.82 30.48 L81.2 30.58 L81.59 30.68 L81.97 30.78 L82.36 30.89 L82.75 31 L83.13 31.11 L83.52 31.23 L83.9 31.35 L84.29 31.47 L84.68 31.6 L85.06 31.73 L85.45 31.87 L85.83 32.01 L86.22 32.16 L86.61 32.31 L86.99 32.47 L87.38 32.63 L87.76 32.8 L88.15 32.98 L88.53 33.15 L88.92 33.34 L89.31 33.53 L89.69 33.72 L90.08 33.92 L90.46 34.12 L90.85 34.33 L91.24 34.54 L91.62 34.75 L92.01 34.97 L92.39 35.2 L92.78 35.42 L93.17 35.65 L93.55 35.89 L93.94 36.13 L94.32 36.37 L94.71 36.61 L95.1 36.86 L95.48 37.11 L95.87 37.36 L96.25 37.61 L96.64 37.87 L97.03 38.13 L97.41 38.39 L97.8 38.66 L98.18 38.93 L98.57 39.2 L98.96 39.47 L99.34 39.75 L99.73 40.04 L100.11 40.33 L100.5 40.62 L100.89 40.92 L101.27 41.23 L101.66 41.54 L102.04 41.87 L102.43 42.2 L102.82 42.53 L103.2 42.88 L103.59 43.23 L103.97 43.59 L104.36 43.96 L104.75 44.33 L105.13 44.7 L105.52 45.09 L105.9 45.47 L106.29 45.87 L106.68 46.27 L107.06 46.67 L107.45 47.07 L107.83 47.49 L108.22 47.9 L108.61 48.33 L108.99 48.75 L109.38 49.19 L109.76 49.63 L110.15 50.07 L110.54 50.53 L110.92 50.99 L111.31 51.45 L111.69 51.92 L112.08 52.4 L112.47 52.88 L112.85 53.37 L113.24 53.86 L113.62 54.36 L114.01 54.86 L114.4 55.36 L114.78 55.87 L115.17 56.38 L115.55 56.9 L115.94 57.42 L116.33 57.94 L116.71 58.47 L117.1 59 L117.48 59.54 L117.87 60.08 L118.26 60.63 L118.64 61.18 L119.03 61.73 L119.41 62.29 L119.8 62.86 L120.18 63.43 L120.57 64 L120.96 64.58 L121.34 65.16 L121.73 65.75 L122.11 66.34 L122.5 66.93 L122.89 67.53 L123.27 68.14 L123.66 68.74 L124.04 69.35 L124.43 69.96 L124.82 70.58 L125.2 71.19 L125.59 71.81 L125.97 72.43 L126.36 73.06 L126.75 73.68 L127.13 74.31 L127.52 74.95 L127.9 75.59 L128.29 76.24 L128.68 76.89 L129.06 77.56 L129.45 78.23 L129.83 78.92 L130.22 79.62 L130.61 80.33 L130.99 81.05 L131.38 81.8 L131.76 82.56 L132.15 83.34 L132.54 84.14 L132.92 84.96 L133.31 85.81 L133.69 86.68 L134.08 87.58 L134.47 88.5 L134.85 89.44 L135.24 90.41 L135.62 91.4 L136.01 92.41 L136.4 93.44 L136.78 94.49 L137.17 95.55 L137.55 96.63 L137.94 97.72 L138.33 98.82 L138.71 99.92 L139.1 101.04 L139.48 102.16 L139.87 103.28 L140.26 104.4 L140.64 105.53 L141.03 106.65 L141.41 107.77 L141.8 108.9 L142.19 110.02 L142.57 111.15 L142.96 112.28 L143.34 113.41 L143.73 114.54 L144.12 115.68 L144.5 116.82 L144.89 117.96 L145.27 119.1 L145.66 120.25 L146.05 121.39 L146.43 122.53 L146.82 123.67 L147.2 124.8 L147.59 125.92 L147.98 127.04 L148.36 128.15 L148.75 129.26 L149.13 130.35 L149.52 131.43 L149.91 132.5 L150.29 133.57 L150.68 134.63 L151.06 135.68 L151.45 136.73 L151.84 137.78 L152.22 138.82 L152.61 139.87 L152.99 140.92 L153.38 141.98 L153.76 143.04 L154.15 144.11 L154.54 145.18 L154.92 146.27 L155.31 147.36 L155.69 148.46 L156.08 149.57 L156.47 150.68 L156.85 151.79 L157.24 152.9 L157.62 154.02 L158.01 155.13 L158.4 156.24 L158.78 157.35 L159.17 158.45 L159.55 159.55 L159.94 160.64 L160.33 161.72 L160.71 162.79 L161.1 163.86 L161.48 164.91 L161.87 165.94 L162.26 166.97 L162.64 167.97 L163.03 168.97 L163.41 169.94 L163.8 170.9 L164.19 171.84 L164.57 172.75 L164.96 173.63 L165.34 174.48 L165.73 175.3 L166.12 176.08 L166.5 176.83 L166.89 177.53 L167.27 178.2 L167.66 178.83 L168.05 179.43 L168.43 180 L168.82 180.53 L169.2 181.04 L169.59 181.53 L169.98 181.99 L170.36 182.42 L170.75 182.84 L171.13 183.23 L171.52 183.61 L171.91 183.96 L172.29 184.3 L172.68 184.61 L173.06 184.91 L173.45 185.2 L173.84 185.47 L174.22 185.73 L174.61 185.98 L174.99 186.22 L175.38 186.44 L175.77 186.66 L176.15 186.86 L176.54 187.06 L176.92 187.24 L177.31 187.42 L177.7 187.58 L178.08 187.74 L178.47 187.88 L178.85 188.02 L179.24 188.14 L179.63 188.26 L180.01 188.37 L180.4 188.47 L180.78 188.57 L181.17 188.66 L181.56 188.74 L181.94 188.83 L182.33 188.9 L182.71 188.98 L183.1 189.05 L183.49 189.11 L183.87 189.18 L184.26 189.24 L184.64 189.3 L185.03 189.35 L185.42 189.41 L185.8 189.46 L186.19 189.5 L186.57 189.55 L186.96 189.59 L187.34 189.63 L187.73 189.67 L188.12 189.71 L188.5 189.75 L188.89 189.78 L189.27 189.81 L189.66 189.85 L190.05 189.88 L190.43 189.91 L190.82 189.94 L191.2 189.97 L191.59 190 L191.98 190.03 L192.36 190.06 L192.75 190.08 L193.13 190.11 L193.52 190.13 L193.91 190.16 L194.29 190.18 L194.68 190.2 L195.06 190.22 L195.45 190.24 L195.84 190.26 L196.22 190.27 L196.61 190.29 L196.99 190.3 L197.38 190.31 L197.77 190.33 L198.15 190.34 L198.54 190.34 L198.92 190.35 L199.31 190.36 L199.7 190.36 L200.08 190.37 L200.47 190.38 L200.85 190.38 L201.24 190.38 L201.63 190.39 L202.01 190.39 L202.4 190.4 L202.78 190.4 L203.17 190.41 L203.56 190.41 L203.94 190.41 L204.33 190.42 L204.71 190.42 L205.1 190.43 L205.49 190.43 L205.87 190.43 L206.26 190.44 L206.64 190.44 L207.03 190.44 L207.42 190.45 L207.8 190.45 L208.19 190.46 L208.57 190.46 L208.96 190.46 L209.35 190.47 L209.73 190.47 L210.12 190.47 L210.5 190.48 L210.89 190.48 L211.28 190.48 L211.66 190.49 L212.05 190.49 L212.43 190.49 L212.82 190.5 L213.21 190.5 L213.59 190.5 L213.98 190.51 L214.36 190.51 L214.75 190.51 L215.14 190.51 L215.52 190.52 L215.91 190.52 L216.29 190.52 L216.68 190.53 L217.07 190.53 L217.45 190.53 L217.84 190.54 L218.22 190.54 L218.61 190.54 L218.99 190.54 L219.38 190.55 L219.77 190.55 L220.15 190.55 L220.54 190.55 L220.92 190.56 L221.31 190.56 L221.7 190.56 L222.08 190.56 L222.47 190.57 L222.85 190.57 L223.24 190.57 L223.63 190.57 L224.01 190.58 L224.4 190.58 L224.78 190.58 L225.17 190.58 L225.56 190.59 L225.94 190.59 L226.33 190.59 L226.71 190.59 L227.1 190.6 L227.49 190.6 L227.87 190.6 L228.26 190.6 L228.64 190.6 L229.03 190.61 L229.42 190.61 L229.8 190.61 L230.19 190.61 L230.57 190.61 L230.96 190.62 L231.35 190.62 L231.73 190.62 L232.12 190.62 L232.5 190.62 L232.89 190.62 L233.28 190.63 L233.66 190.63 L234.05 190.63 L234.43 190.63 L234.82 190.63 L235.21 190.64 L235.59 190.64 L235.98 190.64 L236.36 190.64 L236.75 190.64 L237.14 190.64 L237.52 190.64 L237.91 190.65 L238.29 190.65 L238.68 190.65 L239.07 190.65 L239.45 190.65 L239.84 190.65 L240.22 190.65 L240.61 190.66 L241 190.66 L241.38 190.66 L241.77 190.66 L242.15 190.66 L242.54 190.66 L242.93 190.66 L243.31 190.66 L243.7 190.67 L244.08 190.67 L244.47 190.67 L244.86 190.67 L245.24 190.67 L245.63 190.67 L246.01 190.67 L246.4 190.67 L246.79 190.67 L247.17 190.68 L247.56 190.68 L247.94 190.68 L248.33 190.68 L248.72 190.68 L249.1 190.68 L249.49 190.68 L249.87 190.68 L250.26 190.68 L250.65 190.68 L251.03 190.68 L251.42 190.68 L251.8 190.69 L252.19 190.69 L252.57 190.69 L252.96 190.69 L253.35 190.69 L253.73 190.69 L254.12 190.69 L254.5 190.69 L254.89 190.69 L255.28 190.69 L255.66 190.69 L256.05 190.69 L256.43 190.69 L256.82 190.69 L257.21 190.69 L257.59 190.69 L257.98 190.69 L258.36 190.69 L258.75 190.7 L259.14 190.7 L259.52 190.7 L259.91 190.7 L260.29 190.7 L260.68 190.7 L261.07 190.7 L261.45 190.7 L261.84 190.7 L262.22 190.7 L262.61 190.7 L263 190.7 L263.38 190.7 L263.77 190.7 L264.15 190.7 L264.54 190.7 L264.93 190.7 L265.31 190.7 L265.7 190.7 L266.08 190.7 L266.47 190.7 L266.86 190.7 L267.24 190.7 L267.63 190.7 L268.01 190.7 L268.4 190.7" fill="none" stroke="#444" stroke-width="1.0"/><g fill="none" stroke="#444" stroke-width="0.6" opacity="0.65"><circle cx="37.2" cy="25.48" r="1.3"/><circle cx="41.68" cy="25.72" r="1.3"/><circle cx="46.64" cy="26.08" r="1.3"/><circle cx="51.12" cy="26.43" r="1.3"/><circle cx="55.6" cy="26.81" r="1.3"/><circle cx="69.52" cy="28.32" r="1.3"/><circle cx="83.44" cy="31.21" r="1.3"/><circle cx="91.58" cy="34.73" r="1.3"/><circle cx="97.36" cy="38.36" r="1.3"/><circle cx="101.84" cy="41.69" r="1.3"/><circle cx="105.5" cy="45.07" r="1.3"/><circle cx="108.6" cy="48.32" r="1.3"/><circle cx="111.28" cy="51.42" r="1.3"/><circle cx="113.64" cy="54.38" r="1.3"/><circle cx="115.76" cy="57.18" r="1.3"/><circle cx="117.67" cy="59.81" r="1.3"/><circle cx="119.42" cy="62.3" r="1.3"/><circle cx="121.09" cy="64.77" r="1.3"/><circle cx="122.75" cy="67.32" r="1.3"/><circle cx="124.42" cy="69.94" r="1.3"/><circle cx="126.08" cy="72.6" r="1.3"/><circle cx="127.74" cy="75.33" r="1.3"/><circle cx="129.41" cy="78.16" r="1.3"/><circle cx="131.07" cy="81.21" r="1.3"/><circle cx="132.74" cy="84.57" r="1.3"/><circle cx="134.4" cy="88.35" r="1.3"/><circle cx="136.07" cy="92.56" r="1.3"/><circle cx="137.73" cy="97.13" r="1.3"/><circle cx="139.4" cy="101.91" r="1.3"/><circle cx="141.06" cy="106.75" r="1.3"/><circle cx="142.73" cy="111.6" r="1.3"/><circle cx="144.39" cy="116.49" r="1.3"/><circle cx="146.06" cy="121.42" r="1.3"/><circle cx="147.72" cy="126.31" r="1.3"/><circle cx="149.39" cy="131.06" r="1.3"/><circle cx="151.05" cy="135.64" r="1.3"/><circle cx="152.71" cy="140.16" r="1.3"/><circle cx="154.38" cy="144.74" r="1.3"/><circle cx="156.04" cy="149.46" r="1.3"/><circle cx="157.71" cy="154.26" r="1.3"/><circle cx="159.37" cy="159.03" r="1.3"/><circle cx="161.04" cy="163.69" r="1.3"/><circle cx="162.7" cy="168.13" r="1.3"/><circle cx="164.37" cy="172.27" r="1.3"/><circle cx="166.03" cy="175.92" r="1.3"/><circle cx="167.7" cy="178.89" r="1.3"/><circle cx="169.36" cy="181.24" r="1.3"/><circle cx="171.03" cy="183.13" r="1.3"/><circle cx="172.69" cy="184.62" r="1.3"/><circle cx="174.35" cy="185.82" r="1.3"/><circle cx="176.02" cy="186.79" r="1.3"/><circle cx="177.68" cy="187.58" r="1.3"/><circle cx="179.35" cy="188.18" r="1.3"/><circle cx="181.01" cy="188.62" r="1.3"/><circle cx="182.68" cy="188.97" r="1.3"/><circle cx="184.34" cy="189.25" r="1.3"/><circle cx="186.01" cy="189.48" r="1.3"/><circle cx="187.67" cy="189.67" r="1.3"/><circle cx="189.34" cy="189.82" r="1.3"/><circle cx="191" cy="189.96" r="1.3"/><circle cx="192.67" cy="190.08" r="1.3"/><circle cx="194.33" cy="190.18" r="1.3"/><circle cx="196" cy="190.26" r="1.3"/><circle cx="197.66" cy="190.32" r="1.3"/><circle cx="199.32" cy="190.36" r="1.3"/><circle cx="200.99" cy="190.38" r="1.3"/><circle cx="202.65" cy="190.4" r="1.3"/><circle cx="204.32" cy="190.42" r="1.3"/><circle cx="205.98" cy="190.43" r="1.3"/><circle cx="207.65" cy="190.45" r="1.3"/><circle cx="209.31" cy="190.47" r="1.3"/><circle cx="210.98" cy="190.48" r="1.3"/><circle cx="212.64" cy="190.49" r="1.3"/><circle cx="214.31" cy="190.51" r="1.3"/><circle cx="215.97" cy="190.52" r="1.3"/><circle cx="217.64" cy="190.53" r="1.3"/><circle cx="219.3" cy="190.55" r="1.3"/><circle cx="220.96" cy="190.56" r="1.3"/><circle cx="222.63" cy="190.57" r="1.3"/><circle cx="224.29" cy="190.58" r="1.3"/><circle cx="225.96" cy="190.59" r="1.3"/><circle cx="227.62" cy="190.6" r="1.3"/><circle cx="229.29" cy="190.61" r="1.3"/><circle cx="230.95" cy="190.62" r="1.3"/><circle cx="232.62" cy="190.62" r="1.3"/><circle cx="234.28" cy="190.63" r="1.3"/><circle cx="235.95" cy="190.64" r="1.3"/><circle cx="237.61" cy="190.64" r="1.3"/><circle cx="239.28" cy="190.65" r="1.3"/><circle cx="240.94" cy="190.66" r="1.3"/><circle cx="242.61" cy="190.66" r="1.3"/><circle cx="244.27" cy="190.67" r="1.3"/><circle cx="245.93" cy="190.67" r="1.3"/><circle cx="247.6" cy="190.68" r="1.3"/><circle cx="249.26" cy="190.68" r="1.3"/><circle cx="250.93" cy="190.68" r="1.3"/><circle cx="252.59" cy="190.69" r="1.3"/><circle cx="254.26" cy="190.69" r="1.3"/><circle cx="255.92" cy="190.69" r="1.3"/><circle cx="257.59" cy="190.69" r="1.3"/><circle cx="259.25" cy="190.7" r="1.3"/><circle cx="260.92" cy="190.7" r="1.3"/><circle cx="262.58" cy="190.7" r="1.3"/><circle cx="264.25" cy="190.7" r="1.3"/><circle cx="265.91" cy="190.7" r="1.3"/><circle cx="267.57" cy="190.7" r="1.3"/></g><path d="M37.2 21.22 L37.59 21.22 L37.97 21.23 L38.36 21.24 L38.74 21.25 L39.13 21.26 L39.52 21.27 L39.9 21.29 L40.29 21.3 L40.67 21.31 L41.06 21.33 L41.45 21.34 L41.83 21.36 L42.22 21.37 L42.6 21.39 L42.99 21.41 L43.38 21.43 L43.76 21.44 L44.15 21.46 L44.53 21.48 L44.92 21.5 L45.31 21.52 L45.69 21.54 L46.08 21.56 L46.46 21.58 L46.85 21.61 L47.24 21.63 L47.62 21.65 L48.01 21.67 L48.39 21.69 L48.78 21.72 L49.17 21.74 L49.55 21.76 L49.94 21.79 L50.32 21.81 L50.71 21.84 L51.1 21.86 L51.48 21.89 L51.87 21.91 L52.25 21.94 L52.64 21.96 L53.03 21.99 L53.41 22.02 L53.8 22.05 L54.18 22.07 L54.57 22.1 L54.95 22.13 L55.34 22.16 L55.73 22.19 L56.11 22.22 L56.5 22.25 L56.88 22.29 L57.27 22.32 L57.66 22.35 L58.04 22.39 L58.43 22.42 L58.81 22.46 L59.2 22.49 L59.59 22.53 L59.97 22.57 L60.36 22.6 L60.74 22.64 L61.13 22.68 L61.52 22.72 L61.9 22.76 L62.29 22.8 L62.67 22.85 L63.06 22.89 L63.45 22.93 L63.83 22.98 L64.22 23.02 L64.6 23.07 L64.99 23.12 L65.38 23.17 L65.76 23.22 L66.15 23.27 L66.53 23.32 L66.92 23.37 L67.31 23.42 L67.69 23.48 L68.08 23.53 L68.46 23.59 L68.85 23.65 L69.24 23.71 L69.62 23.77 L70.01 23.83 L70.39 23.9 L70.78 23.97 L71.17 24.04 L71.55 24.12 L71.94 24.19 L72.32 24.27 L72.71 24.36 L73.1 24.44 L73.48 24.53 L73.87 24.62 L74.25 24.71 L74.64 24.81 L75.03 24.91 L75.41 25.01 L75.8 25.12 L76.18 25.22 L76.57 25.33 L76.96 25.44 L77.34 25.56 L77.73 25.67 L78.11 25.79 L78.5 25.91 L78.89 26.03 L79.27 26.15 L79.66 26.28 L80.04 26.4 L80.43 26.53 L80.82 26.66 L81.2 26.79 L81.59 26.93 L81.97 27.06 L82.36 27.2 L82.75 27.34 L83.13 27.48 L83.52 27.62 L83.9 27.76 L84.29 27.9 L84.68 28.05 L85.06 28.2 L85.45 28.35 L85.83 28.51 L86.22 28.67 L86.61 28.83 L86.99 28.99 L87.38 29.16 L87.76 29.33 L88.15 29.5 L88.53 29.68 L88.92 29.86 L89.31 30.04 L89.69 30.23 L90.08 30.41 L90.46 30.61 L90.85 30.8 L91.24 31 L91.62 31.21 L92.01 31.41 L92.39 31.62 L92.78 31.83 L93.17 32.05 L93.55 32.27 L93.94 32.49 L94.32 32.72 L94.71 32.95 L95.1 33.19 L95.48 33.43 L95.87 33.67 L96.25 33.91 L96.64 34.16 L97.03 34.42 L97.41 34.67 L97.8 34.94 L98.18 35.2 L98.57 35.48 L98.96 35.75 L99.34 36.04 L99.73 36.33 L100.11 36.63 L100.5 36.94 L100.89 37.26 L101.27 37.6 L101.66 37.94 L102.04 38.29 L102.43 38.65 L102.82 39.03 L103.2 39.41 L103.59 39.81 L103.97 40.21 L104.36 40.62 L104.75 41.04 L105.13 41.46 L105.52 41.89 L105.9 42.32 L106.29 42.76 L106.68 43.2 L107.06 43.65 L107.45 44.1 L107.83 44.56 L108.22 45.01 L108.61 45.48 L108.99 45.94 L109.38 46.41 L109.76 46.89 L110.15 47.37 L110.54 47.86 L110.92 48.35 L111.31 48.85 L111.69 49.35 L112.08 49.86 L112.47 50.38 L112.85 50.9 L113.24 51.42 L113.62 51.94 L114.01 52.47 L114.4 53.01 L114.78 53.54 L115.17 54.08 L115.55 54.63 L115.94 55.17 L116.33 55.72 L116.71 56.27 L117.1 56.83 L117.48 57.38 L117.87 57.94 L118.26 58.51 L118.64 59.08 L119.03 59.65 L119.41 60.22 L119.8 60.8 L120.18 61.39 L120.57 61.98 L120.96 62.57 L121.34 63.17 L121.73 63.77 L122.11 64.37 L122.5 64.98 L122.89 65.6 L123.27 66.22 L123.66 66.84 L124.04 67.46 L124.43 68.09 L124.82 68.72 L125.2 69.36 L125.59 70 L125.97 70.64 L126.36 71.28 L126.75 71.93 L127.13 72.58 L127.52 73.24 L127.9 73.9 L128.29 74.57 L128.68 75.25 L129.06 75.94 L129.45 76.63 L129.83 77.34 L130.22 78.07 L130.61 78.8 L130.99 79.56 L131.38 80.33 L131.76 81.12 L132.15 81.93 L132.54 82.76 L132.92 83.62 L133.31 84.5 L133.69 85.41 L134.08 86.34 L134.47 87.3 L134.85 88.28 L135.24 89.29 L135.62 90.33 L136.01 91.38 L136.4 92.46 L136.78 93.56 L137.17 94.67 L137.55 95.79 L137.94 96.93 L138.33 98.07 L138.71 99.23 L139.1 100.39 L139.48 101.55 L139.87 102.71 L140.26 103.87 L140.64 105.03 L141.03 106.19 L141.41 107.34 L141.8 108.5 L142.19 109.64 L142.57 110.79 L142.96 111.94 L143.34 113.08 L143.73 114.22 L144.12 115.37 L144.5 116.51 L144.89 117.66 L145.27 118.8 L145.66 119.94 L146.05 121.08 L146.43 122.22 L146.82 123.35 L147.2 124.48 L147.59 125.6 L147.98 126.72 L148.36 127.83 L148.75 128.93 L149.13 130.01 L149.52 131.1 L149.91 132.17 L150.29 133.23 L150.68 134.29 L151.06 135.34 L151.45 136.39 L151.84 137.44 L152.22 138.48 L152.61 139.53 L152.99 140.58 L153.38 141.64 L153.76 142.7 L154.15 143.77 L154.54 144.84 L154.92 145.93 L155.31 147.02 L155.69 148.12 L156.08 149.22 L156.47 150.33 L156.85 151.45 L157.24 152.57 L157.62 153.68 L158.01 154.8 L158.4 155.92 L158.78 157.04 L159.17 158.15 L159.55 159.26 L159.94 160.36 L160.33 161.46 L160.71 162.54 L161.1 163.62 L161.48 164.68 L161.87 165.73 L162.26 166.76 L162.64 167.78 L163.03 168.78 L163.41 169.76 L163.8 170.72 L164.19 171.66 L164.57 172.57 L164.96 173.46 L165.34 174.31 L165.73 175.13 L166.12 175.92 L166.5 176.67 L166.89 177.38 L167.27 178.05 L167.66 178.69 L168.05 179.3 L168.43 179.87 L168.82 180.42 L169.2 180.94 L169.59 181.44 L169.98 181.91 L170.36 182.36 L170.75 182.79 L171.13 183.19 L171.52 183.57 L171.91 183.94 L172.29 184.28 L172.68 184.6 L173.06 184.91 L173.45 185.2 L173.84 185.48 L174.22 185.74 L174.61 185.99 L174.99 186.23 L175.38 186.46 L175.77 186.68 L176.15 186.88 L176.54 187.08 L176.92 187.26 L177.31 187.44 L177.7 187.6 L178.08 187.75 L178.47 187.89 L178.85 188.02 L179.24 188.14 L179.63 188.25 L180.01 188.36 L180.4 188.45 L180.78 188.54 L181.17 188.63 L181.56 188.71 L181.94 188.78 L182.33 188.85 L182.71 188.92 L183.1 188.99 L183.49 189.05 L183.87 189.1 L184.26 189.16 L184.64 189.21 L185.03 189.25 L185.42 189.3 L185.8 189.34 L186.19 189.38 L186.57 189.41 L186.96 189.44 L187.34 189.47 L187.73 189.5 L188.12 189.52 L188.5 189.54 L188.89 189.56 L189.27 189.58 L189.66 189.6 L190.05 189.62 L190.43 189.64 L190.82 189.65 L191.2 189.67 L191.59 189.68 L191.98 189.7 L192.36 189.71 L192.75 189.72 L193.13 189.74 L193.52 189.75 L193.91 189.76 L194.29 189.77 L194.68 189.78 L195.06 189.79 L195.45 189.8 L195.84 189.81 L196.22 189.81 L196.61 189.82 L196.99 189.83 L197.38 189.83 L197.77 189.84 L198.15 189.84 L198.54 189.84 L198.92 189.85 L199.31 189.85 L199.7 189.85 L200.08 189.86 L200.47 189.86 L200.85 189.86 L201.24 189.86 L201.63 189.87 L202.01 189.87 L202.4 189.87 L202.78 189.87 L203.17 189.87 L203.56 189.88 L203.94 189.88 L204.33 189.88 L204.71 189.88 L205.1 189.88 L205.49 189.89 L205.87 189.89 L206.26 189.89 L206.64 189.89 L207.03 189.89 L207.42 189.9 L207.8 189.9 L208.19 189.9 L208.57 189.9 L208.96 189.9 L209.35 189.9 L209.73 189.91 L210.12 189.91 L210.5 189.91 L210.89 189.91 L211.28 189.91 L211.66 189.92 L212.05 189.92 L212.43 189.92 L212.82 189.92 L213.21 189.92 L213.59 189.92 L213.98 189.92 L214.36 189.93 L214.75 189.93 L215.14 189.93 L215.52 189.93 L215.91 189.93 L216.29 189.93 L216.68 189.94 L217.07 189.94 L217.45 189.94 L217.84 189.94 L218.22 189.94 L218.61 189.94 L218.99 189.94 L219.38 189.95 L219.77 189.95 L220.15 189.95 L220.54 189.95 L220.92 189.95 L221.31 189.95 L221.7 189.95 L222.08 189.95 L222.47 189.96 L222.85 189.96 L223.24 189.96 L223.63 189.96 L224.01 189.96 L224.4 189.96 L224.78 189.96 L225.17 189.96 L225.56 189.97 L225.94 189.97 L226.33 189.97 L226.71 189.97 L227.1 189.97 L227.49 189.97 L227.87 189.97 L228.26 189.97 L228.64 189.97 L229.03 189.97 L229.42 189.98 L229.8 189.98 L230.19 189.98 L230.57 189.98 L230.96 189.98 L231.35 189.98 L231.73 189.98 L232.12 189.98 L232.5 189.98 L232.89 189.98 L233.28 189.99 L233.66 189.99 L234.05 189.99 L234.43 189.99 L234.82 189.99 L235.21 189.99 L235.59 189.99 L235.98 189.99 L236.36 189.99 L236.75 189.99 L237.14 189.99 L237.52 189.99 L237.91 190 L238.29 190 L238.68 190 L239.07 190 L239.45 190 L239.84 190 L240.22 190 L240.61 190 L241 190 L241.38 190 L241.77 190 L242.15 190 L242.54 190 L242.93 190 L243.31 190 L243.7 190 L244.08 190.01 L244.47 190.01 L244.86 190.01 L245.24 190.01 L245.63 190.01 L246.01 190.01 L246.4 190.01 L246.79 190.01 L247.17 190.01 L247.56 190.01 L247.94 190.01 L248.33 190.01 L248.72 190.01 L249.1 190.01 L249.49 190.01 L249.87 190.01 L250.26 190.01 L250.65 190.01 L251.03 190.01 L251.42 190.01 L251.8 190.01 L252.19 190.01 L252.57 190.02 L252.96 190.02 L253.35 190.02 L253.73 190.02 L254.12 190.02 L254.5 190.02 L254.89 190.02 L255.28 190.02 L255.66 190.02 L256.05 190.02 L256.43 190.02 L256.82 190.02 L257.21 190.02 L257.59 190.02 L257.98 190.02 L258.36 190.02 L258.75 190.02 L259.14 190.02 L259.52 190.02 L259.91 190.02 L260.29 190.02 L260.68 190.02 L261.07 190.02 L261.45 190.02 L261.84 190.02 L262.22 190.02 L262.61 190.02 L263 190.02 L263.38 190.02 L263.77 190.02 L264.15 190.02 L264.54 190.02 L264.93 190.02 L265.31 190.02 L265.7 190.02 L266.08 190.02 L266.47 190.02 L266.86 190.02 L267.24 190.02 L267.63 190.02 L268.01 190.02 L268.4 190.02" fill="none" stroke="#3333ff" stroke-width="1.1"/><g fill="none" stroke="#3333ff" stroke-width="0.6" opacity="0.65"><rect x="36" y="20.02" width="2.4" height="2.4"/><rect x="40.48" y="20.15" width="2.4" height="2.4"/><rect x="45.44" y="20.39" width="2.4" height="2.4"/><rect x="49.92" y="20.66" width="2.4" height="2.4"/><rect x="54.4" y="20.98" width="2.4" height="2.4"/><rect x="68.32" y="22.55" width="2.4" height="2.4"/><rect x="82.24" y="26.39" width="2.4" height="2.4"/><rect x="90.38" y="29.98" width="2.4" height="2.4"/><rect x="96.16" y="33.44" width="2.4" height="2.4"/><rect x="100.64" y="36.9" width="2.4" height="2.4"/><rect x="104.3" y="40.67" width="2.4" height="2.4"/><rect x="107.4" y="44.27" width="2.4" height="2.4"/><rect x="110.08" y="47.61" width="2.4" height="2.4"/><rect x="112.44" y="50.77" width="2.4" height="2.4"/><rect x="114.56" y="53.72" width="2.4" height="2.4"/><rect x="116.47" y="56.46" width="2.4" height="2.4"/><rect x="118.22" y="59.04" width="2.4" height="2.4"/><rect x="119.89" y="61.57" width="2.4" height="2.4"/><rect x="121.55" y="64.18" width="2.4" height="2.4"/><rect x="123.22" y="66.87" width="2.4" height="2.4"/><rect x="124.88" y="69.61" width="2.4" height="2.4"/><rect x="126.54" y="72.43" width="2.4" height="2.4"/><rect x="128.21" y="75.36" width="2.4" height="2.4"/><rect x="129.87" y="78.52" width="2.4" height="2.4"/><rect x="131.54" y="82.01" width="2.4" height="2.4"/><rect x="133.2" y="85.94" width="2.4" height="2.4"/><rect x="134.87" y="90.34" width="2.4" height="2.4"/><rect x="136.53" y="95.12" width="2.4" height="2.4"/><rect x="138.2" y="100.09" width="2.4" height="2.4"/><rect x="139.86" y="105.09" width="2.4" height="2.4"/><rect x="141.53" y="110.05" width="2.4" height="2.4"/><rect x="143.19" y="114.98" width="2.4" height="2.4"/><rect x="144.86" y="119.91" width="2.4" height="2.4"/><rect x="146.52" y="124.78" width="2.4" height="2.4"/><rect x="148.19" y="129.52" width="2.4" height="2.4"/><rect x="149.85" y="134.11" width="2.4" height="2.4"/><rect x="151.51" y="138.62" width="2.4" height="2.4"/><rect x="153.18" y="143.2" width="2.4" height="2.4"/><rect x="154.84" y="147.92" width="2.4" height="2.4"/><rect x="156.51" y="152.73" width="2.4" height="2.4"/><rect x="158.17" y="157.54" width="2.4" height="2.4"/><rect x="159.84" y="162.25" width="2.4" height="2.4"/><rect x="161.5" y="166.74" width="2.4" height="2.4"/><rect x="163.17" y="170.89" width="2.4" height="2.4"/><rect x="164.83" y="174.55" width="2.4" height="2.4"/><rect x="166.5" y="177.55" width="2.4" height="2.4"/><rect x="168.16" y="179.95" width="2.4" height="2.4"/><rect x="169.83" y="181.88" width="2.4" height="2.4"/><rect x="171.49" y="183.41" width="2.4" height="2.4"/><rect x="173.15" y="184.63" width="2.4" height="2.4"/><rect x="174.82" y="185.61" width="2.4" height="2.4"/><rect x="176.48" y="186.39" width="2.4" height="2.4"/><rect x="178.15" y="186.98" width="2.4" height="2.4"/><rect x="179.81" y="187.4" width="2.4" height="2.4"/><rect x="181.48" y="187.72" width="2.4" height="2.4"/><rect x="183.14" y="187.97" width="2.4" height="2.4"/><rect x="184.81" y="188.16" width="2.4" height="2.4"/><rect x="186.47" y="188.29" width="2.4" height="2.4"/><rect x="188.14" y="188.39" width="2.4" height="2.4"/><rect x="189.8" y="188.13" width="2.4" height="2.4"/><rect x="191.47" y="189.63" width="2.4" height="2.4"/><rect x="193.13" y="188.53" width="2.4" height="2.4"/><rect x="194.8" y="189.26" width="2.4" height="2.4"/><rect x="196.46" y="188.12" width="2.4" height="2.4"/><rect x="198.12" y="190.03" width="2.4" height="2.4"/><rect x="199.79" y="189.28" width="2.4" height="2.4"/><rect x="201.45" y="188.19" width="2.4" height="2.4"/><rect x="203.12" y="187.9" width="2.4" height="2.4"/><rect x="204.78" y="190.15" width="2.4" height="2.4"/><rect x="206.45" y="189.03" width="2.4" height="2.4"/><rect x="208.11" y="188.48" width="2.4" height="2.4"/><rect x="209.78" y="189.13" width="2.4" height="2.4"/><rect x="211.44" y="187.64" width="2.4" height="2.4"/><rect x="213.11" y="189.53" width="2.4" height="2.4"/><rect x="214.77" y="188.49" width="2.4" height="2.4"/><rect x="216.44" y="189.45" width="2.4" height="2.4"/><rect x="218.1" y="187.79" width="2.4" height="2.4"/><rect x="219.76" y="188.77" width="2.4" height="2.4"/><rect x="221.43" y="189.01" width="2.4" height="2.4"/><rect x="223.09" y="189.93" width="2.4" height="2.4"/><rect x="224.76" y="187.63" width="2.4" height="2.4"/><rect x="226.42" y="188.26" width="2.4" height="2.4"/><rect x="228.09" y="188.26" width="2.4" height="2.4"/><rect x="229.75" y="188.01" width="2.4" height="2.4"/><rect x="231.42" y="188.55" width="2.4" height="2.4"/><rect x="233.08" y="189.22" width="2.4" height="2.4"/><rect x="234.75" y="189.33" width="2.4" height="2.4"/><rect x="236.41" y="189.34" width="2.4" height="2.4"/><rect x="238.08" y="187.87" width="2.4" height="2.4"/><rect x="239.74" y="189.79" width="2.4" height="2.4"/><rect x="241.41" y="189.21" width="2.4" height="2.4"/><rect x="243.07" y="189.02" width="2.4" height="2.4"/><rect x="244.73" y="188.66" width="2.4" height="2.4"/><rect x="246.4" y="188.42" width="2.4" height="2.4"/><rect x="248.06" y="189.66" width="2.4" height="2.4"/><rect x="249.73" y="189.99" width="2.4" height="2.4"/><rect x="251.39" y="188.82" width="2.4" height="2.4"/><rect x="253.06" y="187.99" width="2.4" height="2.4"/><rect x="254.72" y="188.3" width="2.4" height="2.4"/><rect x="256.39" y="188.67" width="2.4" height="2.4"/><rect x="258.05" y="189.03" width="2.4" height="2.4"/><rect x="259.72" y="188.62" width="2.4" height="2.4"/><rect x="261.38" y="188.99" width="2.4" height="2.4"/><rect x="263.05" y="188.27" width="2.4" height="2.4"/><rect x="264.71" y="189.36" width="2.4" height="2.4"/><rect x="266.37" y="188.73" width="2.4" height="2.4"/></g><path d="M37.2 190.7v3.7M51.12 190.7v2M59.26 190.7v2M65.04 190.7v2M69.52 190.7v2M73.18 190.7v2M76.28 190.7v2M78.96 190.7v2M81.32 190.7v2M83.44 190.7v3.7M97.36 190.7v2M105.5 190.7v2M111.28 190.7v2M115.76 190.7v2M119.42 190.7v2M122.52 190.7v2M125.2 190.7v2M127.56 190.7v2M129.68 190.7v3.7M143.6 190.7v2M151.74 190.7v2M157.52 190.7v2M162 190.7v2M165.66 190.7v2M168.76 190.7v2M171.44 190.7v2M173.8 190.7v2M175.92 190.7v3.7M189.84 190.7v2M197.98 190.7v2M203.76 190.7v2M208.24 190.7v2M211.9 190.7v2M215 190.7v2M217.68 190.7v2M220.04 190.7v2M222.16 190.7v3.7M236.08 190.7v2M244.22 190.7v2M250 190.7v2M254.48 190.7v2M258.14 190.7v2M261.24 190.7v2M263.92 190.7v2M266.28 190.7v2M268.4 190.7v3.7" stroke="#333" stroke-width="0.9" fill="none"/><text x="37.2" y="202.9" text-anchor="middle" font-size="7.5">1</text><text x="83.44" y="202.9" text-anchor="middle" font-size="7.5">10</text><text x="129.68" y="202.9" text-anchor="middle" font-size="7.5">100</text><text x="175.92" y="202.9" text-anchor="middle" font-size="7.5">1000</text><text x="222.16" y="202.9" text-anchor="middle" font-size="7.5">10000</text><text x="268.4" y="202.9" text-anchor="middle" font-size="7.5">100000</text><path d="M37.2 190.7h-3.7M37.2 105.95h-3.7M37.2 21.2h-3.7M37.2 148.32h-2M37.2 63.57h-2" stroke="#333" stroke-width="0.9" fill="none"/><text x="31.6" y="193.4" text-anchor="end" font-size="7.5">0.0</text><text x="31.6" y="108.65" text-anchor="end" font-size="7.5">0.5</text><text x="31.6" y="23.9" text-anchor="end" font-size="7.5">1.0</text><rect x="39.4" y="235.7" width="231.1" height="169.9" fill="none" stroke="#333" stroke-width="1.1"/><path d="M39.4 244.41 L39.79 244.48 L40.17 244.56 L40.56 244.66 L40.94 244.78 L41.33 244.9 L41.71 245.03 L42.1 245.17 L42.49 245.32 L42.87 245.48 L43.26 245.64 L43.64 245.81 L44.03 245.98 L44.42 246.16 L44.8 246.34 L45.19 246.53 L45.57 246.72 L45.96 246.92 L46.34 247.12 L46.73 247.34 L47.12 247.55 L47.5 247.78 L47.89 248.01 L48.27 248.25 L48.66 248.5 L49.05 248.75 L49.43 249 L49.82 249.27 L50.2 249.53 L50.59 249.8 L50.97 250.07 L51.36 250.33 L51.75 250.6 L52.13 250.86 L52.52 251.13 L52.9 251.38 L53.29 251.64 L53.67 251.89 L54.06 252.13 L54.45 252.38 L54.83 252.62 L55.22 252.87 L55.6 253.11 L55.99 253.36 L56.38 253.62 L56.76 253.88 L57.15 254.14 L57.53 254.41 L57.92 254.7 L58.3 254.98 L58.69 255.28 L59.08 255.59 L59.46 255.9 L59.85 256.22 L60.23 256.55 L60.62 256.89 L61.01 257.23 L61.39 257.59 L61.78 257.95 L62.16 258.32 L62.55 258.69 L62.93 259.08 L63.32 259.47 L63.71 259.87 L64.09 260.28 L64.48 260.7 L64.86 261.12 L65.25 261.56 L65.64 262.01 L66.02 262.46 L66.41 262.93 L66.79 263.4 L67.18 263.88 L67.56 264.38 L67.95 264.88 L68.34 265.39 L68.72 265.91 L69.11 266.44 L69.49 266.97 L69.88 267.51 L70.26 268.06 L70.65 268.62 L71.04 269.19 L71.42 269.76 L71.81 270.34 L72.19 270.93 L72.58 271.53 L72.97 272.13 L73.35 272.74 L73.74 273.36 L74.12 273.99 L74.51 274.63 L74.89 275.28 L75.28 275.93 L75.67 276.59 L76.05 277.26 L76.44 277.94 L76.82 278.62 L77.21 279.31 L77.6 280.01 L77.98 280.71 L78.37 281.41 L78.75 282.13 L79.14 282.84 L79.52 283.56 L79.91 284.29 L80.3 285.02 L80.68 285.75 L81.07 286.49 L81.45 287.23 L81.84 287.97 L82.22 288.72 L82.61 289.47 L83 290.22 L83.38 290.97 L83.77 291.73 L84.15 292.48 L84.54 293.24 L84.93 294.01 L85.31 294.78 L85.7 295.55 L86.08 296.32 L86.47 297.1 L86.85 297.89 L87.24 298.68 L87.63 299.48 L88.01 300.29 L88.4 301.09 L88.78 301.91 L89.17 302.72 L89.56 303.55 L89.94 304.37 L90.33 305.19 L90.71 306.02 L91.1 306.85 L91.48 307.68 L91.87 308.52 L92.26 309.36 L92.64 310.21 L93.03 311.06 L93.41 311.92 L93.8 312.79 L94.18 313.67 L94.57 314.56 L94.96 315.47 L95.34 316.4 L95.73 317.35 L96.11 318.33 L96.5 319.32 L96.89 320.35 L97.27 321.39 L97.66 322.47 L98.04 323.57 L98.43 324.69 L98.81 325.83 L99.2 326.98 L99.59 328.14 L99.97 329.3 L100.36 330.46 L100.74 331.61 L101.13 332.74 L101.52 333.85 L101.9 334.95 L102.29 336.02 L102.67 337.07 L103.06 338.09 L103.44 339.09 L103.83 340.07 L104.22 341.03 L104.6 341.97 L104.99 342.9 L105.37 343.81 L105.76 344.71 L106.15 345.59 L106.53 346.46 L106.92 347.32 L107.3 348.17 L107.69 349.01 L108.07 349.83 L108.46 350.65 L108.85 351.45 L109.23 352.25 L109.62 353.04 L110 353.81 L110.39 354.59 L110.77 355.35 L111.16 356.12 L111.55 356.88 L111.93 357.64 L112.32 358.41 L112.7 359.17 L113.09 359.94 L113.48 360.71 L113.86 361.49 L114.25 362.27 L114.63 363.05 L115.02 363.83 L115.4 364.62 L115.79 365.4 L116.18 366.17 L116.56 366.93 L116.95 367.69 L117.33 368.43 L117.72 369.16 L118.11 369.87 L118.49 370.57 L118.88 371.24 L119.26 371.91 L119.65 372.55 L120.03 373.18 L120.42 373.8 L120.81 374.4 L121.19 374.99 L121.58 375.56 L121.96 376.13 L122.35 376.69 L122.73 377.23 L123.12 377.77 L123.51 378.3 L123.89 378.83 L124.28 379.34 L124.66 379.86 L125.05 380.36 L125.44 380.86 L125.82 381.35 L126.21 381.84 L126.59 382.32 L126.98 382.78 L127.36 383.24 L127.75 383.68 L128.14 384.11 L128.52 384.52 L128.91 384.91 L129.29 385.29 L129.68 385.65 L130.07 386 L130.45 386.32 L130.84 386.63 L131.22 386.93 L131.61 387.22 L131.99 387.49 L132.38 387.76 L132.77 388.02 L133.15 388.27 L133.54 388.52 L133.92 388.77 L134.31 389.03 L134.69 389.28 L135.08 389.54 L135.47 389.79 L135.85 390.05 L136.24 390.32 L136.62 390.58 L137.01 390.84 L137.4 391.1 L137.78 391.35 L138.17 391.6 L138.55 391.84 L138.94 392.08 L139.32 392.31 L139.71 392.53 L140.1 392.74 L140.48 392.94 L140.87 393.13 L141.25 393.32 L141.64 393.5 L142.03 393.67 L142.41 393.84 L142.8 394 L143.18 394.16 L143.57 394.31 L143.95 394.47 L144.34 394.61 L144.73 394.76 L145.11 394.9 L145.5 395.04 L145.88 395.17 L146.27 395.31 L146.66 395.44 L147.04 395.57 L147.43 395.69 L147.81 395.82 L148.2 395.95 L148.58 396.07 L148.97 396.19 L149.36 396.31 L149.74 396.43 L150.13 396.55 L150.51 396.67 L150.9 396.79 L151.28 396.9 L151.67 397.02 L152.06 397.13 L152.44 397.24 L152.83 397.35 L153.21 397.46 L153.6 397.56 L153.99 397.67 L154.37 397.77 L154.76 397.88 L155.14 397.98 L155.53 398.08 L155.91 398.18 L156.3 398.28 L156.69 398.38 L157.07 398.48 L157.46 398.58 L157.84 398.68 L158.23 398.78 L158.62 398.87 L159 398.97 L159.39 399.07 L159.77 399.17 L160.16 399.27 L160.54 399.36 L160.93 399.46 L161.32 399.56 L161.7 399.66 L162.09 399.76 L162.47 399.85 L162.86 399.95 L163.24 400.05 L163.63 400.15 L164.02 400.25 L164.4 400.34 L164.79 400.44 L165.17 400.54 L165.56 400.63 L165.95 400.72 L166.33 400.82 L166.72 400.91 L167.1 401 L167.49 401.08 L167.87 401.17 L168.26 401.25 L168.65 401.34 L169.03 401.42 L169.42 401.5 L169.8 401.57 L170.19 401.65 L170.58 401.72 L170.96 401.79 L171.35 401.86 L171.73 401.93 L172.12 402 L172.5 402.06 L172.89 402.12 L173.28 402.19 L173.66 402.25 L174.05 402.31 L174.43 402.37 L174.82 402.43 L175.21 402.49 L175.59 402.54 L175.98 402.6 L176.36 402.66 L176.75 402.71 L177.13 402.77 L177.52 402.82 L177.91 402.87 L178.29 402.93 L178.68 402.98 L179.06 403.03 L179.45 403.08 L179.83 403.14 L180.22 403.19 L180.61 403.24 L180.99 403.29 L181.38 403.34 L181.76 403.39 L182.15 403.44 L182.54 403.49 L182.92 403.54 L183.31 403.59 L183.69 403.64 L184.08 403.68 L184.46 403.73 L184.85 403.78 L185.24 403.83 L185.62 403.87 L186.01 403.92 L186.39 403.96 L186.78 404.01 L187.17 404.05 L187.55 404.09 L187.94 404.14 L188.32 404.18 L188.71 404.22 L189.09 404.26 L189.48 404.3 L189.87 404.34 L190.25 404.38 L190.64 404.42 L191.02 404.46 L191.41 404.5 L191.79 404.54 L192.18 404.58 L192.57 404.62 L192.95 404.65 L193.34 404.69 L193.72 404.73 L194.11 404.77 L194.5 404.81 L194.88 404.85 L195.27 404.88 L195.65 404.92 L196.04 404.95 L196.42 404.99 L196.81 405.02 L197.2 405.05 L197.58 405.08 L197.97 405.1 L198.35 405.13 L198.74 405.15 L199.13 405.17 L199.51 405.19 L199.9 405.21 L200.28 405.22 L200.67 405.23 L201.05 405.24 L201.44 405.25 L201.83 405.26 L202.21 405.27 L202.6 405.27 L202.98 405.28 L203.37 405.28 L203.75 405.29 L204.14 405.29 L204.53 405.3 L204.91 405.3 L205.3 405.31 L205.68 405.31 L206.07 405.31 L206.46 405.32 L206.84 405.32 L207.23 405.33 L207.61 405.33 L208 405.33 L208.38 405.34 L208.77 405.34 L209.16 405.35 L209.54 405.35 L209.93 405.35 L210.31 405.36 L210.7 405.36 L211.09 405.36 L211.47 405.37 L211.86 405.37 L212.24 405.38 L212.63 405.38 L213.01 405.38 L213.4 405.39 L213.79 405.39 L214.17 405.39 L214.56 405.4 L214.94 405.4 L215.33 405.4 L215.72 405.41 L216.1 405.41 L216.49 405.41 L216.87 405.42 L217.26 405.42 L217.64 405.42 L218.03 405.42 L218.42 405.43 L218.8 405.43 L219.19 405.43 L219.57 405.44 L219.96 405.44 L220.34 405.44 L220.73 405.44 L221.12 405.45 L221.5 405.45 L221.89 405.45 L222.27 405.46 L222.66 405.46 L223.05 405.46 L223.43 405.46 L223.82 405.47 L224.2 405.47 L224.59 405.47 L224.97 405.47 L225.36 405.48 L225.75 405.48 L226.13 405.48 L226.52 405.48 L226.9 405.49 L227.29 405.49 L227.68 405.49 L228.06 405.49 L228.45 405.49 L228.83 405.5 L229.22 405.5 L229.6 405.5 L229.99 405.5 L230.38 405.51 L230.76 405.51 L231.15 405.51 L231.53 405.51 L231.92 405.51 L232.3 405.52 L232.69 405.52 L233.08 405.52 L233.46 405.52 L233.85 405.52 L234.23 405.52 L234.62 405.53 L235.01 405.53 L235.39 405.53 L235.78 405.53 L236.16 405.53 L236.55 405.54 L236.93 405.54 L237.32 405.54 L237.71 405.54 L238.09 405.54 L238.48 405.54 L238.86 405.54 L239.25 405.55 L239.64 405.55 L240.02 405.55 L240.41 405.55 L240.79 405.55 L241.18 405.55 L241.56 405.55 L241.95 405.56 L242.34 405.56 L242.72 405.56 L243.11 405.56 L243.49 405.56 L243.88 405.56 L244.26 405.56 L244.65 405.56 L245.04 405.57 L245.42 405.57 L245.81 405.57 L246.19 405.57 L246.58 405.57 L246.97 405.57 L247.35 405.57 L247.74 405.57 L248.12 405.57 L248.51 405.58 L248.89 405.58 L249.28 405.58 L249.67 405.58 L250.05 405.58 L250.44 405.58 L250.82 405.58 L251.21 405.58 L251.6 405.58 L251.98 405.58 L252.37 405.58 L252.75 405.58 L253.14 405.58 L253.52 405.59 L253.91 405.59 L254.3 405.59 L254.68 405.59 L255.07 405.59 L255.45 405.59 L255.84 405.59 L256.23 405.59 L256.61 405.59 L257 405.59 L257.38 405.59 L257.77 405.59 L258.15 405.59 L258.54 405.59 L258.93 405.59 L259.31 405.59 L259.7 405.59 L260.08 405.59 L260.47 405.6 L260.85 405.6 L261.24 405.6 L261.63 405.6 L262.01 405.6 L262.4 405.6 L262.78 405.6 L263.17 405.6 L263.56 405.6 L263.94 405.6 L264.33 405.6 L264.71 405.6 L265.1 405.6 L265.48 405.6 L265.87 405.6 L266.26 405.6 L266.64 405.6 L267.03 405.6 L267.41 405.6 L267.8 405.6 L268.19 405.6 L268.57 405.6 L268.96 405.6 L269.34 405.6 L269.73 405.6 L270.11 405.6 L270.5 405.6" fill="none" stroke="#ff3d9e" stroke-width="1.0"/><g fill="none" stroke="#ff3d9e" stroke-width="0.6" opacity="0.65"><rect x="70.51" y="269.32" width="2.4" height="2.4"/><rect x="84.42" y="294.17" width="2.4" height="2.4"/><rect x="92.56" y="311.04" width="2.4" height="2.4"/><rect x="98.33" y="326.95" width="2.4" height="2.4"/><rect x="102.81" y="339.54" width="2.4" height="2.4"/><rect x="106.47" y="347.61" width="2.4" height="2.4"/><rect x="109.57" y="354.02" width="2.4" height="2.4"/><rect x="112.25" y="359.42" width="2.4" height="2.4"/><rect x="114.61" y="364.55" width="2.4" height="2.4"/><rect x="116.73" y="368.35" width="2.4" height="2.4"/><rect x="118.64" y="371.43" width="2.4" height="2.4"/><rect x="120.39" y="374.83" width="2.4" height="2.4"/><rect x="122.05" y="376.91" width="2.4" height="2.4"/><rect x="123.71" y="379.63" width="2.4" height="2.4"/><rect x="125.38" y="381.54" width="2.4" height="2.4"/><rect x="127.04" y="383.65" width="2.4" height="2.4"/><rect x="128.71" y="384.74" width="2.4" height="2.4"/><rect x="130.37" y="386.42" width="2.4" height="2.4"/><rect x="132.03" y="387.03" width="2.4" height="2.4"/><rect x="133.7" y="388.16" width="2.4" height="2.4"/><rect x="135.36" y="389.4" width="2.4" height="2.4"/><rect x="137.03" y="391.29" width="2.4" height="2.4"/><rect x="138.69" y="391.61" width="2.4" height="2.4"/><rect x="140.35" y="392.28" width="2.4" height="2.4"/><rect x="142.02" y="392.94" width="2.4" height="2.4"/><rect x="143.68" y="394.13" width="2.4" height="2.4"/><rect x="145.34" y="394.36" width="2.4" height="2.4"/><rect x="147.01" y="395.08" width="2.4" height="2.4"/><rect x="148.67" y="395.55" width="2.4" height="2.4"/><rect x="150.34" y="395.42" width="2.4" height="2.4"/><rect x="152" y="396.53" width="2.4" height="2.4"/><rect x="153.66" y="396.72" width="2.4" height="2.4"/><rect x="155.33" y="396.84" width="2.4" height="2.4"/><rect x="156.99" y="397.77" width="2.4" height="2.4"/><rect x="158.66" y="398.03" width="2.4" height="2.4"/><rect x="160.32" y="398.37" width="2.4" height="2.4"/><rect x="161.98" y="398.81" width="2.4" height="2.4"/><rect x="163.65" y="399.67" width="2.4" height="2.4"/><rect x="165.31" y="399.63" width="2.4" height="2.4"/><rect x="166.98" y="399.57" width="2.4" height="2.4"/><rect x="168.64" y="400.9" width="2.4" height="2.4"/><rect x="170.3" y="400.4" width="2.4" height="2.4"/><rect x="171.97" y="400.93" width="2.4" height="2.4"/><rect x="173.63" y="401.45" width="2.4" height="2.4"/><rect x="175.3" y="400.8" width="2.4" height="2.4"/><rect x="176.96" y="401.45" width="2.4" height="2.4"/><rect x="178.62" y="402.34" width="2.4" height="2.4"/><rect x="180.29" y="402.13" width="2.4" height="2.4"/><rect x="181.95" y="402.17" width="2.4" height="2.4"/><rect x="183.62" y="402.64" width="2.4" height="2.4"/><rect x="185.28" y="402.54" width="2.4" height="2.4"/><rect x="186.94" y="402.98" width="2.4" height="2.4"/><rect x="188.61" y="402.91" width="2.4" height="2.4"/><rect x="190.27" y="402.82" width="2.4" height="2.4"/><rect x="191.93" y="403.7" width="2.4" height="2.4"/><rect x="193.6" y="403.57" width="2.4" height="2.4"/><rect x="195.26" y="403.95" width="2.4" height="2.4"/><rect x="196.93" y="403.87" width="2.4" height="2.4"/><rect x="198.59" y="404.41" width="2.4" height="2.4"/><rect x="200.25" y="404.25" width="2.4" height="2.4"/><rect x="201.92" y="404.15" width="2.4" height="2.4"/><rect x="203.58" y="403.8" width="2.4" height="2.4"/><rect x="205.25" y="403.73" width="2.4" height="2.4"/><rect x="206.91" y="404.59" width="2.4" height="2.4"/><rect x="208.57" y="404.42" width="2.4" height="2.4"/><rect x="210.24" y="403.95" width="2.4" height="2.4"/><rect x="211.9" y="404.86" width="2.4" height="2.4"/><rect x="213.57" y="404.35" width="2.4" height="2.4"/><rect x="215.23" y="404.24" width="2.4" height="2.4"/><rect x="216.89" y="403.8" width="2.4" height="2.4"/><rect x="218.56" y="404" width="2.4" height="2.4"/><rect x="220.22" y="404.36" width="2.4" height="2.4"/><rect x="221.89" y="404.39" width="2.4" height="2.4"/><rect x="223.55" y="404.36" width="2.4" height="2.4"/><rect x="225.21" y="403.76" width="2.4" height="2.4"/><rect x="226.88" y="404.44" width="2.4" height="2.4"/><rect x="228.54" y="404.41" width="2.4" height="2.4"/><rect x="230.2" y="404.19" width="2.4" height="2.4"/><rect x="231.87" y="404.36" width="2.4" height="2.4"/><rect x="233.53" y="404.39" width="2.4" height="2.4"/><rect x="235.2" y="404.71" width="2.4" height="2.4"/><rect x="236.86" y="404.35" width="2.4" height="2.4"/><rect x="238.52" y="404.5" width="2.4" height="2.4"/><rect x="240.19" y="403.96" width="2.4" height="2.4"/><rect x="241.85" y="404.14" width="2.4" height="2.4"/><rect x="243.52" y="404.37" width="2.4" height="2.4"/><rect x="245.18" y="404.14" width="2.4" height="2.4"/><rect x="246.84" y="404.49" width="2.4" height="2.4"/><rect x="248.51" y="404.02" width="2.4" height="2.4"/><rect x="250.17" y="404.38" width="2.4" height="2.4"/><rect x="251.84" y="404.19" width="2.4" height="2.4"/><rect x="253.5" y="404.83" width="2.4" height="2.4"/><rect x="255.16" y="404.27" width="2.4" height="2.4"/><rect x="256.83" y="404.97" width="2.4" height="2.4"/><rect x="258.49" y="405.09" width="2.4" height="2.4"/><rect x="260.16" y="404.5" width="2.4" height="2.4"/><rect x="261.82" y="404.7" width="2.4" height="2.4"/><rect x="263.48" y="404.34" width="2.4" height="2.4"/><rect x="265.15" y="403.64" width="2.4" height="2.4"/><rect x="266.81" y="404.68" width="2.4" height="2.4"/><rect x="268.48" y="404.61" width="2.4" height="2.4"/><rect x="41.7" y="239" width="2.4" height="2.4"/><rect x="47.7" y="243.3" width="2.4" height="2.4"/><rect x="45" y="243.9" width="2.4" height="2.4"/><rect x="51.5" y="251" width="2.4" height="2.4"/><rect x="55.9" y="252.1" width="2.4" height="2.4"/></g><path d="M39.4 235.7 L39.79 235.71 L40.17 235.71 L40.56 235.71 L40.94 235.72 L41.33 235.72 L41.71 235.73 L42.1 235.73 L42.49 235.74 L42.87 235.75 L43.26 235.76 L43.64 235.77 L44.03 235.78 L44.42 235.79 L44.8 235.81 L45.19 235.82 L45.57 235.83 L45.96 235.85 L46.34 235.87 L46.73 235.89 L47.12 235.9 L47.5 235.92 L47.89 235.94 L48.27 235.97 L48.66 235.99 L49.05 236.01 L49.43 236.04 L49.82 236.06 L50.2 236.09 L50.59 236.11 L50.97 236.14 L51.36 236.17 L51.75 236.2 L52.13 236.23 L52.52 236.26 L52.9 236.29 L53.29 236.32 L53.67 236.36 L54.06 236.39 L54.45 236.43 L54.83 236.46 L55.22 236.5 L55.6 236.54 L55.99 236.58 L56.38 236.62 L56.76 236.66 L57.15 236.7 L57.53 236.74 L57.92 236.78 L58.3 236.82 L58.69 236.87 L59.08 236.91 L59.46 236.96 L59.85 237 L60.23 237.05 L60.62 237.1 L61.01 237.15 L61.39 237.2 L61.78 237.25 L62.16 237.3 L62.55 237.35 L62.93 237.4 L63.32 237.45 L63.71 237.51 L64.09 237.56 L64.48 237.61 L64.86 237.67 L65.25 237.73 L65.64 237.78 L66.02 237.84 L66.41 237.9 L66.79 237.96 L67.18 238.02 L67.56 238.08 L67.95 238.14 L68.34 238.2 L68.72 238.26 L69.11 238.33 L69.49 238.4 L69.88 238.47 L70.26 238.54 L70.65 238.62 L71.04 238.7 L71.42 238.79 L71.81 238.88 L72.19 238.99 L72.58 239.1 L72.97 239.22 L73.35 239.34 L73.74 239.48 L74.12 239.62 L74.51 239.77 L74.89 239.92 L75.28 240.09 L75.67 240.26 L76.05 240.44 L76.44 240.62 L76.82 240.81 L77.21 241.01 L77.6 241.21 L77.98 241.41 L78.37 241.62 L78.75 241.84 L79.14 242.06 L79.52 242.28 L79.91 242.5 L80.3 242.73 L80.68 242.96 L81.07 243.19 L81.45 243.42 L81.84 243.66 L82.22 243.89 L82.61 244.13 L83 244.37 L83.38 244.61 L83.77 244.85 L84.15 245.1 L84.54 245.34 L84.93 245.59 L85.31 245.85 L85.7 246.11 L86.08 246.37 L86.47 246.64 L86.85 246.91 L87.24 247.19 L87.63 247.48 L88.01 247.76 L88.4 248.06 L88.78 248.35 L89.17 248.65 L89.56 248.95 L89.94 249.25 L90.33 249.55 L90.71 249.85 L91.1 250.16 L91.48 250.46 L91.87 250.77 L92.26 251.08 L92.64 251.4 L93.03 251.71 L93.41 252.03 L93.8 252.35 L94.18 252.67 L94.57 253 L94.96 253.33 L95.34 253.65 L95.73 253.99 L96.11 254.32 L96.5 254.65 L96.89 254.99 L97.27 255.34 L97.66 255.68 L98.04 256.03 L98.43 256.38 L98.81 256.74 L99.2 257.1 L99.59 257.46 L99.97 257.83 L100.36 258.21 L100.74 258.58 L101.13 258.97 L101.52 259.36 L101.9 259.75 L102.29 260.15 L102.67 260.55 L103.06 260.96 L103.44 261.37 L103.83 261.78 L104.22 262.2 L104.6 262.63 L104.99 263.06 L105.37 263.49 L105.76 263.93 L106.15 264.37 L106.53 264.81 L106.92 265.26 L107.3 265.71 L107.69 266.17 L108.07 266.63 L108.46 267.1 L108.85 267.57 L109.23 268.05 L109.62 268.52 L110 269.01 L110.39 269.5 L110.77 269.99 L111.16 270.49 L111.55 270.99 L111.93 271.5 L112.32 272.01 L112.7 272.53 L113.09 273.06 L113.48 273.59 L113.86 274.13 L114.25 274.68 L114.63 275.23 L115.02 275.79 L115.4 276.35 L115.79 276.92 L116.18 277.5 L116.56 278.08 L116.95 278.66 L117.33 279.25 L117.72 279.84 L118.11 280.44 L118.49 281.04 L118.88 281.64 L119.26 282.24 L119.65 282.85 L120.03 283.46 L120.42 284.07 L120.81 284.68 L121.19 285.29 L121.58 285.91 L121.96 286.52 L122.35 287.14 L122.73 287.76 L123.12 288.39 L123.51 289.01 L123.89 289.64 L124.28 290.28 L124.66 290.92 L125.05 291.56 L125.44 292.2 L125.82 292.84 L126.21 293.49 L126.59 294.13 L126.98 294.77 L127.36 295.41 L127.75 296.05 L128.14 296.68 L128.52 297.31 L128.91 297.92 L129.29 298.54 L129.68 299.14 L130.07 299.73 L130.45 300.32 L130.84 300.9 L131.22 301.47 L131.61 302.04 L131.99 302.6 L132.38 303.17 L132.77 303.73 L133.15 304.3 L133.54 304.88 L133.92 305.46 L134.31 306.04 L134.69 306.64 L135.08 307.24 L135.47 307.85 L135.85 308.46 L136.24 309.07 L136.62 309.68 L137.01 310.29 L137.4 310.9 L137.78 311.49 L138.17 312.08 L138.55 312.66 L138.94 313.22 L139.32 313.76 L139.71 314.29 L140.1 314.8 L140.48 315.3 L140.87 315.79 L141.25 316.25 L141.64 316.71 L142.03 317.16 L142.41 317.59 L142.8 318.01 L143.18 318.43 L143.57 318.84 L143.95 319.24 L144.34 319.63 L144.73 320.02 L145.11 320.4 L145.5 320.78 L145.88 321.16 L146.27 321.53 L146.66 321.9 L147.04 322.26 L147.43 322.62 L147.81 322.98 L148.2 323.34 L148.58 323.7 L148.97 324.06 L149.36 324.42 L149.74 324.77 L150.13 325.13 L150.51 325.48 L150.9 325.84 L151.28 326.19 L151.67 326.54 L152.06 326.88 L152.44 327.23 L152.83 327.57 L153.21 327.92 L153.6 328.26 L153.99 328.59 L154.37 328.93 L154.76 329.26 L155.14 329.6 L155.53 329.93 L155.91 330.26 L156.3 330.59 L156.69 330.92 L157.07 331.25 L157.46 331.58 L157.84 331.91 L158.23 332.24 L158.62 332.57 L159 332.9 L159.39 333.23 L159.77 333.56 L160.16 333.89 L160.54 334.21 L160.93 334.54 L161.32 334.86 L161.7 335.18 L162.09 335.5 L162.47 335.81 L162.86 336.12 L163.24 336.44 L163.63 336.75 L164.02 337.06 L164.4 337.37 L164.79 337.69 L165.17 338.01 L165.56 338.33 L165.95 338.65 L166.33 338.98 L166.72 339.31 L167.1 339.65 L167.49 340 L167.87 340.35 L168.26 340.72 L168.65 341.09 L169.03 341.48 L169.42 341.87 L169.8 342.28 L170.19 342.71 L170.58 343.15 L170.96 343.6 L171.35 344.07 L171.73 344.55 L172.12 345.05 L172.5 345.57 L172.89 346.1 L173.28 346.64 L173.66 347.2 L174.05 347.77 L174.43 348.35 L174.82 348.93 L175.21 349.53 L175.59 350.13 L175.98 350.74 L176.36 351.35 L176.75 351.96 L177.13 352.58 L177.52 353.2 L177.91 353.81 L178.29 354.43 L178.68 355.04 L179.06 355.65 L179.45 356.25 L179.83 356.85 L180.22 357.45 L180.61 358.05 L180.99 358.64 L181.38 359.23 L181.76 359.82 L182.15 360.4 L182.54 360.99 L182.92 361.58 L183.31 362.16 L183.69 362.75 L184.08 363.33 L184.46 363.92 L184.85 364.51 L185.24 365.09 L185.62 365.68 L186.01 366.26 L186.39 366.85 L186.78 367.43 L187.17 368.02 L187.55 368.6 L187.94 369.19 L188.32 369.77 L188.71 370.36 L189.09 370.94 L189.48 371.53 L189.87 372.11 L190.25 372.7 L190.64 373.29 L191.02 373.88 L191.41 374.47 L191.79 375.07 L192.18 375.67 L192.57 376.27 L192.95 376.87 L193.34 377.47 L193.72 378.07 L194.11 378.67 L194.5 379.27 L194.88 379.87 L195.27 380.46 L195.65 381.04 L196.04 381.63 L196.42 382.2 L196.81 382.77 L197.2 383.33 L197.58 383.88 L197.97 384.42 L198.35 384.95 L198.74 385.47 L199.13 385.98 L199.51 386.47 L199.9 386.96 L200.28 387.44 L200.67 387.91 L201.05 388.37 L201.44 388.82 L201.83 389.27 L202.21 389.71 L202.6 390.14 L202.98 390.57 L203.37 391 L203.75 391.42 L204.14 391.83 L204.53 392.23 L204.91 392.64 L205.3 393.03 L205.68 393.42 L206.07 393.81 L206.46 394.18 L206.84 394.56 L207.23 394.92 L207.61 395.28 L208 395.63 L208.38 395.98 L208.77 396.32 L209.16 396.65 L209.54 396.98 L209.93 397.3 L210.31 397.62 L210.7 397.93 L211.09 398.24 L211.47 398.54 L211.86 398.83 L212.24 399.13 L212.63 399.42 L213.01 399.71 L213.4 399.99 L213.79 400.27 L214.17 400.55 L214.56 400.81 L214.94 401.08 L215.33 401.33 L215.72 401.58 L216.1 401.82 L216.49 402.05 L216.87 402.26 L217.26 402.47 L217.64 402.66 L218.03 402.84 L218.42 403.01 L218.8 403.17 L219.19 403.31 L219.57 403.44 L219.96 403.56 L220.34 403.68 L220.73 403.78 L221.12 403.88 L221.5 403.98 L221.89 404.07 L222.27 404.15 L222.66 404.23 L223.05 404.31 L223.43 404.38 L223.82 404.45 L224.2 404.52 L224.59 404.58 L224.97 404.64 L225.36 404.7 L225.75 404.75 L226.13 404.8 L226.52 404.85 L226.9 404.89 L227.29 404.93 L227.68 404.97 L228.06 405 L228.45 405.04 L228.83 405.07 L229.22 405.1 L229.6 405.12 L229.99 405.15 L230.38 405.17 L230.76 405.2 L231.15 405.22 L231.53 405.24 L231.92 405.26 L232.3 405.28 L232.69 405.3 L233.08 405.32 L233.46 405.34 L233.85 405.36 L234.23 405.38 L234.62 405.4 L235.01 405.41 L235.39 405.43 L235.78 405.45 L236.16 405.46 L236.55 405.47 L236.93 405.49 L237.32 405.5 L237.71 405.51 L238.09 405.52 L238.48 405.53 L238.86 405.54 L239.25 405.55 L239.64 405.56 L240.02 405.57 L240.41 405.57 L240.79 405.58 L241.18 405.58 L241.56 405.59 L241.95 405.59 L242.34 405.59 L242.72 405.6 L243.11 405.6 L243.49 405.6 L243.88 405.6 L244.26 405.6 L244.65 405.6 L245.04 405.6 L245.42 405.6 L245.81 405.6 L246.19 405.6 L246.58 405.6 L246.97 405.6 L247.35 405.6 L247.74 405.6 L248.12 405.6 L248.51 405.6 L248.89 405.6 L249.28 405.6 L249.67 405.6 L250.05 405.6 L250.44 405.6 L250.82 405.6 L251.21 405.6 L251.6 405.6 L251.98 405.6 L252.37 405.6 L252.75 405.6 L253.14 405.6 L253.52 405.6 L253.91 405.6 L254.3 405.6 L254.68 405.6 L255.07 405.6 L255.45 405.6 L255.84 405.6 L256.23 405.6 L256.61 405.6 L257 405.6 L257.38 405.6 L257.77 405.6 L258.15 405.6 L258.54 405.6 L258.93 405.6 L259.31 405.6 L259.7 405.6 L260.08 405.6 L260.47 405.6 L260.85 405.6 L261.24 405.6 L261.63 405.6 L262.01 405.6 L262.4 405.6 L262.78 405.6 L263.17 405.6 L263.56 405.6 L263.94 405.6 L264.33 405.6 L264.71 405.6 L265.1 405.6 L265.48 405.6 L265.87 405.6 L266.26 405.6 L266.64 405.6 L267.03 405.6 L267.41 405.6 L267.8 405.6 L268.19 405.6 L268.57 405.6 L268.96 405.6 L269.34 405.6 L269.73 405.6 L270.11 405.6 L270.5 405.6" fill="none" stroke="#444" stroke-width="1.0"/><g fill="none" stroke="#444" stroke-width="0.6" opacity="0.65"><circle cx="71.71" cy="238.78" r="1.3"/><circle cx="85.62" cy="246.43" r="1.3"/><circle cx="93.76" cy="252.85" r="1.3"/><circle cx="99.53" cy="256.9" r="1.3"/><circle cx="104.01" cy="260.87" r="1.3"/><circle cx="107.67" cy="265.97" r="1.3"/><circle cx="110.77" cy="270.82" r="1.3"/><circle cx="113.45" cy="274.2" r="1.3"/><circle cx="115.81" cy="275.87" r="1.3"/><circle cx="117.93" cy="280.02" r="1.3"/><circle cx="119.84" cy="284.33" r="1.3"/><circle cx="121.59" cy="285.98" r="1.3"/><circle cx="123.25" cy="289.39" r="1.3"/><circle cx="124.91" cy="291.76" r="1.3"/><circle cx="126.58" cy="294.44" r="1.3"/><circle cx="128.24" cy="297.34" r="1.3"/><circle cx="129.91" cy="299.11" r="1.3"/><circle cx="131.57" cy="302.02" r="1.3"/><circle cx="133.23" cy="304.83" r="1.3"/><circle cx="134.9" cy="306.67" r="1.3"/><circle cx="136.56" cy="309.02" r="1.3"/><circle cx="138.23" cy="313.28" r="1.3"/><circle cx="139.89" cy="314.71" r="1.3"/><circle cx="141.55" cy="317.28" r="1.3"/><circle cx="143.22" cy="318.58" r="1.3"/><circle cx="144.88" cy="321.05" r="1.3"/><circle cx="146.54" cy="321.78" r="1.3"/><circle cx="148.21" cy="323.38" r="1.3"/><circle cx="149.87" cy="325.1" r="1.3"/><circle cx="151.54" cy="327.13" r="1.3"/><circle cx="153.2" cy="328.17" r="1.3"/><circle cx="154.86" cy="330.1" r="1.3"/><circle cx="156.53" cy="331.71" r="1.3"/><circle cx="158.19" cy="332.06" r="1.3"/><circle cx="159.86" cy="334.38" r="1.3"/><circle cx="161.52" cy="334.23" r="1.3"/><circle cx="163.18" cy="335.9" r="1.3"/><circle cx="164.85" cy="339.1" r="1.3"/><circle cx="166.51" cy="338.95" r="1.3"/><circle cx="168.18" cy="341.39" r="1.3"/><circle cx="169.84" cy="342.3" r="1.3"/><circle cx="171.5" cy="344.23" r="1.3"/><circle cx="173.17" cy="347.84" r="1.3"/><circle cx="174.83" cy="349.11" r="1.3"/><circle cx="176.5" cy="351.73" r="1.3"/><circle cx="178.16" cy="353.56" r="1.3"/><circle cx="179.82" cy="357.64" r="1.3"/><circle cx="181.49" cy="358.89" r="1.3"/><circle cx="183.15" cy="362.67" r="1.3"/><circle cx="184.82" cy="364.68" r="1.3"/><circle cx="186.48" cy="367.55" r="1.3"/><circle cx="188.14" cy="368.52" r="1.3"/><circle cx="189.81" cy="371.64" r="1.3"/><circle cx="191.47" cy="372.92" r="1.3"/><circle cx="193.13" cy="376.72" r="1.3"/><circle cx="194.8" cy="379.16" r="1.3"/><circle cx="196.46" cy="381.69" r="1.3"/><circle cx="198.13" cy="385.05" r="1.3"/><circle cx="199.79" cy="386.87" r="1.3"/><circle cx="201.45" cy="387.92" r="1.3"/><circle cx="203.12" cy="390.99" r="1.3"/><circle cx="204.78" cy="392.37" r="1.3"/><circle cx="206.45" cy="394.19" r="1.3"/><circle cx="208.11" cy="395.32" r="1.3"/><circle cx="209.77" cy="397.42" r="1.3"/><circle cx="211.44" cy="398.61" r="1.3"/><circle cx="213.1" cy="399.61" r="1.3"/><circle cx="214.77" cy="400.89" r="1.3"/><circle cx="216.43" cy="402.6" r="1.3"/><circle cx="218.09" cy="402.26" r="1.3"/><circle cx="219.76" cy="404.38" r="1.3"/><circle cx="221.42" cy="404.77" r="1.3"/><circle cx="223.09" cy="405.19" r="1.3"/><circle cx="224.75" cy="403.95" r="1.3"/><circle cx="226.41" cy="405.08" r="1.3"/><circle cx="228.08" cy="405.67" r="1.3"/><circle cx="229.74" cy="405.91" r="1.3"/><circle cx="231.4" cy="404.95" r="1.3"/><circle cx="233.07" cy="406.04" r="1.3"/><circle cx="234.73" cy="406.27" r="1.3"/><circle cx="236.4" cy="405.05" r="1.3"/><circle cx="238.06" cy="406.34" r="1.3"/><circle cx="239.72" cy="405.78" r="1.3"/><circle cx="241.39" cy="405.59" r="1.3"/><circle cx="243.05" cy="405.9" r="1.3"/><circle cx="244.72" cy="405.64" r="1.3"/><circle cx="246.38" cy="404.69" r="1.3"/><circle cx="248.04" cy="405.95" r="1.3"/><circle cx="249.71" cy="406.46" r="1.3"/><circle cx="251.37" cy="406.85" r="1.3"/><circle cx="253.04" cy="405.74" r="1.3"/><circle cx="254.7" cy="405.84" r="1.3"/><circle cx="256.36" cy="405.42" r="1.3"/><circle cx="258.03" cy="405.92" r="1.3"/><circle cx="259.69" cy="405.93" r="1.3"/><circle cx="261.36" cy="406.09" r="1.3"/><circle cx="263.02" cy="405.95" r="1.3"/><circle cx="264.68" cy="405.49" r="1.3"/><circle cx="266.35" cy="405.86" r="1.3"/><circle cx="268.01" cy="405.53" r="1.3"/><circle cx="269.68" cy="404.31" r="1.3"/><circle cx="42.9" cy="242.4" r="1.3"/><circle cx="46.5" cy="240" r="1.3"/></g><path d="M39.4 235.73 L39.79 235.73 L40.17 235.75 L40.56 235.76 L40.94 235.78 L41.33 235.8 L41.71 235.82 L42.1 235.84 L42.49 235.87 L42.87 235.89 L43.26 235.92 L43.64 235.96 L44.03 235.99 L44.42 236.03 L44.8 236.06 L45.19 236.1 L45.57 236.14 L45.96 236.19 L46.34 236.23 L46.73 236.28 L47.12 236.32 L47.5 236.37 L47.89 236.42 L48.27 236.47 L48.66 236.52 L49.05 236.58 L49.43 236.63 L49.82 236.69 L50.2 236.74 L50.59 236.8 L50.97 236.86 L51.36 236.92 L51.75 236.98 L52.13 237.04 L52.52 237.1 L52.9 237.16 L53.29 237.22 L53.67 237.29 L54.06 237.35 L54.45 237.42 L54.83 237.49 L55.22 237.56 L55.6 237.63 L55.99 237.71 L56.38 237.79 L56.76 237.87 L57.15 237.95 L57.53 238.04 L57.92 238.13 L58.3 238.22 L58.69 238.32 L59.08 238.42 L59.46 238.52 L59.85 238.62 L60.23 238.73 L60.62 238.83 L61.01 238.94 L61.39 239.06 L61.78 239.17 L62.16 239.29 L62.55 239.41 L62.93 239.53 L63.32 239.66 L63.71 239.78 L64.09 239.91 L64.48 240.04 L64.86 240.17 L65.25 240.3 L65.64 240.44 L66.02 240.57 L66.41 240.71 L66.79 240.85 L67.18 240.99 L67.56 241.13 L67.95 241.27 L68.34 241.42 L68.72 241.56 L69.11 241.71 L69.49 241.86 L69.88 242.01 L70.26 242.16 L70.65 242.32 L71.04 242.47 L71.42 242.64 L71.81 242.8 L72.19 242.97 L72.58 243.14 L72.97 243.32 L73.35 243.5 L73.74 243.68 L74.12 243.87 L74.51 244.06 L74.89 244.26 L75.28 244.45 L75.67 244.66 L76.05 244.86 L76.44 245.07 L76.82 245.28 L77.21 245.49 L77.6 245.71 L77.98 245.92 L78.37 246.14 L78.75 246.36 L79.14 246.59 L79.52 246.81 L79.91 247.03 L80.3 247.26 L80.68 247.48 L81.07 247.71 L81.45 247.94 L81.84 248.16 L82.22 248.39 L82.61 248.62 L83 248.84 L83.38 249.07 L83.77 249.29 L84.15 249.51 L84.54 249.74 L84.93 249.96 L85.31 250.18 L85.7 250.4 L86.08 250.63 L86.47 250.85 L86.85 251.07 L87.24 251.3 L87.63 251.54 L88.01 251.77 L88.4 252.02 L88.78 252.27 L89.17 252.53 L89.56 252.8 L89.94 253.07 L90.33 253.36 L90.71 253.66 L91.1 253.96 L91.48 254.28 L91.87 254.61 L92.26 254.94 L92.64 255.29 L93.03 255.64 L93.41 256.01 L93.8 256.38 L94.18 256.76 L94.57 257.14 L94.96 257.53 L95.34 257.93 L95.73 258.34 L96.11 258.75 L96.5 259.16 L96.89 259.58 L97.27 260.01 L97.66 260.43 L98.04 260.86 L98.43 261.3 L98.81 261.73 L99.2 262.17 L99.59 262.61 L99.97 263.06 L100.36 263.5 L100.74 263.95 L101.13 264.39 L101.52 264.84 L101.9 265.29 L102.29 265.75 L102.67 266.21 L103.06 266.66 L103.44 267.13 L103.83 267.59 L104.22 268.06 L104.6 268.54 L104.99 269.02 L105.37 269.5 L105.76 269.99 L106.15 270.49 L106.53 270.99 L106.92 271.5 L107.3 272.01 L107.69 272.53 L108.07 273.06 L108.46 273.6 L108.85 274.14 L109.23 274.7 L109.62 275.26 L110 275.83 L110.39 276.41 L110.77 277 L111.16 277.6 L111.55 278.21 L111.93 278.84 L112.32 279.47 L112.7 280.13 L113.09 280.79 L113.48 281.47 L113.86 282.16 L114.25 282.87 L114.63 283.59 L115.02 284.33 L115.4 285.08 L115.79 285.85 L116.18 286.64 L116.56 287.44 L116.95 288.26 L117.33 289.1 L117.72 289.96 L118.11 290.84 L118.49 291.74 L118.88 292.67 L119.26 293.63 L119.65 294.61 L120.03 295.62 L120.42 296.66 L120.81 297.73 L121.19 298.82 L121.58 299.93 L121.96 301.05 L122.35 302.18 L122.73 303.31 L123.12 304.44 L123.51 305.56 L123.89 306.66 L124.28 307.75 L124.66 308.81 L125.05 309.84 L125.44 310.85 L125.82 311.84 L126.21 312.8 L126.59 313.74 L126.98 314.66 L127.36 315.57 L127.75 316.46 L128.14 317.34 L128.52 318.22 L128.91 319.1 L129.29 319.97 L129.68 320.85 L130.07 321.74 L130.45 322.64 L130.84 323.56 L131.22 324.49 L131.61 325.44 L131.99 326.42 L132.38 327.43 L132.77 328.46 L133.15 329.52 L133.54 330.6 L133.92 331.72 L134.31 332.86 L134.69 334.02 L135.08 335.2 L135.47 336.39 L135.85 337.59 L136.24 338.79 L136.62 339.99 L137.01 341.18 L137.4 342.36 L137.78 343.53 L138.17 344.67 L138.55 345.78 L138.94 346.87 L139.32 347.93 L139.71 348.95 L140.1 349.95 L140.48 350.92 L140.87 351.87 L141.25 352.79 L141.64 353.69 L142.03 354.56 L142.41 355.42 L142.8 356.26 L143.18 357.08 L143.57 357.88 L143.95 358.66 L144.34 359.42 L144.73 360.16 L145.11 360.87 L145.5 361.57 L145.88 362.24 L146.27 362.89 L146.66 363.52 L147.04 364.12 L147.43 364.71 L147.81 365.27 L148.2 365.82 L148.58 366.35 L148.97 366.87 L149.36 367.37 L149.74 367.86 L150.13 368.34 L150.51 368.8 L150.9 369.26 L151.28 369.7 L151.67 370.14 L152.06 370.56 L152.44 370.97 L152.83 371.37 L153.21 371.76 L153.6 372.14 L153.99 372.51 L154.37 372.86 L154.76 373.2 L155.14 373.53 L155.53 373.85 L155.91 374.15 L156.3 374.44 L156.69 374.71 L157.07 374.98 L157.46 375.23 L157.84 375.47 L158.23 375.7 L158.62 375.92 L159 376.13 L159.39 376.34 L159.77 376.53 L160.16 376.72 L160.54 376.9 L160.93 377.07 L161.32 377.24 L161.7 377.4 L162.09 377.56 L162.47 377.71 L162.86 377.86 L163.24 378.01 L163.63 378.15 L164.02 378.29 L164.4 378.43 L164.79 378.57 L165.17 378.71 L165.56 378.85 L165.95 378.98 L166.33 379.12 L166.72 379.26 L167.1 379.4 L167.49 379.54 L167.87 379.68 L168.26 379.82 L168.65 379.97 L169.03 380.12 L169.42 380.27 L169.8 380.43 L170.19 380.59 L170.58 380.75 L170.96 380.91 L171.35 381.08 L171.73 381.24 L172.12 381.41 L172.5 381.58 L172.89 381.75 L173.28 381.93 L173.66 382.1 L174.05 382.28 L174.43 382.45 L174.82 382.63 L175.21 382.8 L175.59 382.98 L175.98 383.16 L176.36 383.34 L176.75 383.52 L177.13 383.7 L177.52 383.88 L177.91 384.06 L178.29 384.24 L178.68 384.42 L179.06 384.6 L179.45 384.78 L179.83 384.96 L180.22 385.14 L180.61 385.32 L180.99 385.5 L181.38 385.68 L181.76 385.87 L182.15 386.05 L182.54 386.23 L182.92 386.41 L183.31 386.59 L183.69 386.77 L184.08 386.96 L184.46 387.14 L184.85 387.32 L185.24 387.51 L185.62 387.69 L186.01 387.88 L186.39 388.07 L186.78 388.25 L187.17 388.44 L187.55 388.63 L187.94 388.82 L188.32 389.02 L188.71 389.21 L189.09 389.41 L189.48 389.61 L189.87 389.81 L190.25 390.01 L190.64 390.22 L191.02 390.42 L191.41 390.64 L191.79 390.85 L192.18 391.07 L192.57 391.28 L192.95 391.51 L193.34 391.73 L193.72 391.96 L194.11 392.18 L194.5 392.41 L194.88 392.64 L195.27 392.87 L195.65 393.1 L196.04 393.33 L196.42 393.56 L196.81 393.79 L197.2 394.02 L197.58 394.24 L197.97 394.47 L198.35 394.69 L198.74 394.91 L199.13 395.13 L199.51 395.34 L199.9 395.56 L200.28 395.77 L200.67 395.97 L201.05 396.18 L201.44 396.38 L201.83 396.58 L202.21 396.78 L202.6 396.98 L202.98 397.18 L203.37 397.38 L203.75 397.58 L204.14 397.77 L204.53 397.97 L204.91 398.16 L205.3 398.35 L205.68 398.54 L206.07 398.72 L206.46 398.9 L206.84 399.08 L207.23 399.26 L207.61 399.43 L208 399.59 L208.38 399.75 L208.77 399.91 L209.16 400.06 L209.54 400.2 L209.93 400.34 L210.31 400.47 L210.7 400.6 L211.09 400.72 L211.47 400.84 L211.86 400.95 L212.24 401.06 L212.63 401.17 L213.01 401.27 L213.4 401.37 L213.79 401.46 L214.17 401.56 L214.56 401.65 L214.94 401.74 L215.33 401.83 L215.72 401.91 L216.1 401.99 L216.49 402.07 L216.87 402.15 L217.26 402.22 L217.64 402.29 L218.03 402.36 L218.42 402.43 L218.8 402.49 L219.19 402.55 L219.57 402.61 L219.96 402.67 L220.34 402.72 L220.73 402.77 L221.12 402.82 L221.5 402.86 L221.89 402.91 L222.27 402.95 L222.66 402.99 L223.05 403.03 L223.43 403.07 L223.82 403.11 L224.2 403.15 L224.59 403.18 L224.97 403.22 L225.36 403.25 L225.75 403.29 L226.13 403.32 L226.52 403.35 L226.9 403.38 L227.29 403.41 L227.68 403.44 L228.06 403.47 L228.45 403.49 L228.83 403.52 L229.22 403.54 L229.6 403.57 L229.99 403.59 L230.38 403.61 L230.76 403.63 L231.15 403.64 L231.53 403.66 L231.92 403.67 L232.3 403.69 L232.69 403.7 L233.08 403.71 L233.46 403.72 L233.85 403.73 L234.23 403.74 L234.62 403.75 L235.01 403.76 L235.39 403.76 L235.78 403.77 L236.16 403.78 L236.55 403.78 L236.93 403.79 L237.32 403.8 L237.71 403.8 L238.09 403.81 L238.48 403.82 L238.86 403.82 L239.25 403.83 L239.64 403.83 L240.02 403.84 L240.41 403.85 L240.79 403.85 L241.18 403.86 L241.56 403.86 L241.95 403.87 L242.34 403.87 L242.72 403.88 L243.11 403.89 L243.49 403.89 L243.88 403.9 L244.26 403.9 L244.65 403.91 L245.04 403.91 L245.42 403.92 L245.81 403.92 L246.19 403.93 L246.58 403.93 L246.97 403.93 L247.35 403.94 L247.74 403.94 L248.12 403.95 L248.51 403.95 L248.89 403.96 L249.28 403.96 L249.67 403.96 L250.05 403.97 L250.44 403.97 L250.82 403.98 L251.21 403.98 L251.6 403.98 L251.98 403.99 L252.37 403.99 L252.75 403.99 L253.14 404 L253.52 404 L253.91 404 L254.3 404.01 L254.68 404.01 L255.07 404.01 L255.45 404.02 L255.84 404.02 L256.23 404.02 L256.61 404.02 L257 404.03 L257.38 404.03 L257.77 404.03 L258.15 404.03 L258.54 404.04 L258.93 404.04 L259.31 404.04 L259.7 404.04 L260.08 404.04 L260.47 404.05 L260.85 404.05 L261.24 404.05 L261.63 404.05 L262.01 404.05 L262.4 404.05 L262.78 404.06 L263.17 404.06 L263.56 404.06 L263.94 404.06 L264.33 404.06 L264.71 404.06 L265.1 404.06 L265.48 404.06 L265.87 404.07 L266.26 404.07 L266.64 404.07 L267.03 404.07 L267.41 404.07 L267.8 404.07 L268.19 404.07 L268.57 404.07 L268.96 404.07 L269.34 404.07 L269.73 404.07 L270.11 404.07 L270.5 404.07" fill="none" stroke="#3333ff" stroke-width="1.0"/><g fill="none" stroke="#3333ff" stroke-width="0.6" opacity="0.65"><circle cx="71.71" cy="241.84" r="1.3"/><circle cx="85.62" cy="249.91" r="1.3"/><circle cx="93.76" cy="255.32" r="1.3"/><circle cx="99.53" cy="262.36" r="1.3"/><circle cx="104.01" cy="267.44" r="1.3"/><circle cx="107.67" cy="272.39" r="1.3"/><circle cx="110.77" cy="277.72" r="1.3"/><circle cx="113.45" cy="281.99" r="1.3"/><circle cx="115.81" cy="285.64" r="1.3"/><circle cx="117.93" cy="290.82" r="1.3"/><circle cx="119.84" cy="294.24" r="1.3"/><circle cx="121.59" cy="299.07" r="1.3"/><circle cx="123.25" cy="303.6" r="1.3"/><circle cx="124.91" cy="309.5" r="1.3"/><circle cx="126.58" cy="312.76" r="1.3"/><circle cx="128.24" cy="318.2" r="1.3"/><circle cx="129.91" cy="321.93" r="1.3"/><circle cx="131.57" cy="325.29" r="1.3"/><circle cx="133.23" cy="329.55" r="1.3"/><circle cx="134.9" cy="335.72" r="1.3"/><circle cx="136.56" cy="340.97" r="1.3"/><circle cx="138.23" cy="344.6" r="1.3"/><circle cx="139.89" cy="350.01" r="1.3"/><circle cx="141.55" cy="352.66" r="1.3"/><circle cx="143.22" cy="356.88" r="1.3"/><circle cx="144.88" cy="360.24" r="1.3"/><circle cx="146.54" cy="363.2" r="1.3"/><circle cx="148.21" cy="365.23" r="1.3"/><circle cx="149.87" cy="368.13" r="1.3"/><circle cx="151.54" cy="369.25" r="1.3"/><circle cx="153.2" cy="372.11" r="1.3"/><circle cx="154.86" cy="373.45" r="1.3"/><circle cx="156.53" cy="375.07" r="1.3"/><circle cx="158.19" cy="375.28" r="1.3"/><circle cx="159.86" cy="376.55" r="1.3"/><circle cx="161.52" cy="377.91" r="1.3"/><circle cx="163.18" cy="376.63" r="1.3"/><circle cx="164.85" cy="378.84" r="1.3"/><circle cx="166.51" cy="379.26" r="1.3"/><circle cx="168.18" cy="379.52" r="1.3"/><circle cx="169.84" cy="379.26" r="1.3"/><circle cx="171.5" cy="381.24" r="1.3"/><circle cx="173.17" cy="381.4" r="1.3"/><circle cx="174.83" cy="382.57" r="1.3"/><circle cx="176.5" cy="384.39" r="1.3"/><circle cx="178.16" cy="383.64" r="1.3"/><circle cx="179.82" cy="384.26" r="1.3"/><circle cx="181.49" cy="385.9" r="1.3"/><circle cx="183.15" cy="386.53" r="1.3"/><circle cx="184.82" cy="388.33" r="1.3"/><circle cx="186.48" cy="389.14" r="1.3"/><circle cx="188.14" cy="389.19" r="1.3"/><circle cx="189.81" cy="389.35" r="1.3"/><circle cx="191.47" cy="390.99" r="1.3"/><circle cx="193.13" cy="391.26" r="1.3"/><circle cx="194.8" cy="391.44" r="1.3"/><circle cx="196.46" cy="393.47" r="1.3"/><circle cx="198.13" cy="393.88" r="1.3"/><circle cx="199.79" cy="393.78" r="1.3"/><circle cx="201.45" cy="397.87" r="1.3"/><circle cx="203.12" cy="396.37" r="1.3"/><circle cx="204.78" cy="400.34" r="1.3"/><circle cx="206.45" cy="398.39" r="1.3"/><circle cx="208.11" cy="399.4" r="1.3"/><circle cx="209.77" cy="400.93" r="1.3"/><circle cx="211.44" cy="402.11" r="1.3"/><circle cx="213.1" cy="401.37" r="1.3"/><circle cx="214.77" cy="402.19" r="1.3"/><circle cx="216.43" cy="401.94" r="1.3"/><circle cx="218.09" cy="403.45" r="1.3"/><circle cx="219.76" cy="401.99" r="1.3"/><circle cx="221.42" cy="404.09" r="1.3"/><circle cx="223.09" cy="403.4" r="1.3"/><circle cx="224.75" cy="403.66" r="1.3"/><circle cx="226.41" cy="401.83" r="1.3"/><circle cx="228.08" cy="405.25" r="1.3"/><circle cx="229.74" cy="404.07" r="1.3"/><circle cx="231.4" cy="402.25" r="1.3"/><circle cx="233.07" cy="404.49" r="1.3"/><circle cx="234.73" cy="405.22" r="1.3"/><circle cx="236.4" cy="403.45" r="1.3"/><circle cx="238.06" cy="404.15" r="1.3"/><circle cx="239.72" cy="402.84" r="1.3"/><circle cx="241.39" cy="404.96" r="1.3"/><circle cx="243.05" cy="403.66" r="1.3"/><circle cx="244.72" cy="403.11" r="1.3"/><circle cx="246.38" cy="402.7" r="1.3"/><circle cx="248.04" cy="405.26" r="1.3"/><circle cx="249.71" cy="402.27" r="1.3"/><circle cx="251.37" cy="405.05" r="1.3"/><circle cx="253.04" cy="405.79" r="1.3"/><circle cx="254.7" cy="405.14" r="1.3"/><circle cx="256.36" cy="403.84" r="1.3"/><circle cx="258.03" cy="404.42" r="1.3"/><circle cx="259.69" cy="403.52" r="1.3"/><circle cx="261.36" cy="403.46" r="1.3"/><circle cx="263.02" cy="403.68" r="1.3"/><circle cx="264.68" cy="404.36" r="1.3"/><circle cx="266.35" cy="401.91" r="1.3"/><circle cx="268.01" cy="406.7" r="1.3"/><circle cx="269.68" cy="406.13" r="1.3"/><circle cx="46.2" cy="239.4" r="1.3"/><circle cx="48.9" cy="241.3" r="1.3"/><circle cx="53.3" cy="239.4" r="1.3"/><circle cx="57.1" cy="243.5" r="1.3"/></g><path d="M39.4 405.6v3.7M53.31 405.6v2M61.45 405.6v2M67.23 405.6v2M71.71 405.6v2M75.37 405.6v2M78.46 405.6v2M81.14 405.6v2M83.51 405.6v2M85.62 405.6v3.7M99.53 405.6v2M107.67 405.6v2M113.45 405.6v2M117.93 405.6v2M121.59 405.6v2M124.68 405.6v2M127.36 405.6v2M129.73 405.6v2M131.84 405.6v3.7M145.75 405.6v2M153.89 405.6v2M159.67 405.6v2M164.15 405.6v2M167.81 405.6v2M170.9 405.6v2M173.58 405.6v2M175.95 405.6v2M178.06 405.6v3.7M191.97 405.6v2M200.11 405.6v2M205.89 405.6v2M210.37 405.6v2M214.03 405.6v2M217.12 405.6v2M219.8 405.6v2M222.17 405.6v2M224.28 405.6v3.7M238.19 405.6v2M246.33 405.6v2M252.11 405.6v2M256.59 405.6v2M260.25 405.6v2M263.34 405.6v2M266.02 405.6v2M268.39 405.6v2M270.5 405.6v3.7" stroke="#333" stroke-width="0.9" fill="none"/><text x="39.4" y="417.8" text-anchor="middle" font-size="7.5">1</text><text x="85.62" y="417.8" text-anchor="middle" font-size="7.5">10</text><text x="131.84" y="417.8" text-anchor="middle" font-size="7.5">100</text><text x="178.06" y="417.8" text-anchor="middle" font-size="7.5">1000</text><text x="224.28" y="417.8" text-anchor="middle" font-size="7.5">10000</text><text x="270.5" y="417.8" text-anchor="middle" font-size="7.5">100000</text><path d="M39.4 405.6h-3.7M39.4 320.65h-3.7M39.4 235.7h-3.7M39.4 363.12h-2M39.4 278.18h-2" stroke="#333" stroke-width="0.9" fill="none"/><text x="33.8" y="408.3" text-anchor="end" font-size="7.5">0.0</text><text x="33.8" y="323.35" text-anchor="end" font-size="7.5">0.5</text><text x="33.8" y="238.4" text-anchor="end" font-size="7.5">1.0</text><rect x="313.4" y="21.1" width="230.45" height="169.6" fill="none" stroke="#333" stroke-width="1.1"/><path d="M343.5 190.7 L345.2 190.7 L346.85 190.7 L348.5 190.7 L350.15 190.7 L351.8 190.7 L353.45 190.7 L355.1 190.7 L355.5 190.7 L356.5 185.44 L358.7 182.73 L360.9 180.52 L362.5 177.81 L364.2 175.1 L365.8 171.37 L367.4 167.46 L369.1 164.24 L371.3 160.85 L373.4 159.32 L374.9 158.9 L376.7 159.83 L378.1 161.53 L379.4 163.56 L381.1 166.45 L382.7 169.67 L384.4 172.89 L386 176.28 L387.6 179.34 L389.8 183.24 L392 179.34 L393.1 185.95 L394.2 187.14 L395.8 187.14 L396.3 190.7 L398 190.7 L399.65 190.7 L401.3 190.7 L402.95 190.7 L404.6 190.7 L406.25 190.7 L407.9 190.7 L409.55 190.7 L411.2 190.7 L412.85 190.7 L413.5 190.7 L414.5 182.05 L416 181.2 L417.5 180.52 L419 180.02 L420.4 179.51 L422 180.02 L423.3 180.52 L425.1 181.71 L425.8 186.8 L428 186.46 L429.1 190.7 L430.7 190.7 L432.35 190.7 L434 190.7 L435.65 190.7 L437.3 190.7 L438.95 190.7 L440.6 190.7 L442.25 190.7 L443.9 190.7 L445.55 190.7 L447.2 190.7 L448.85 190.7 L450.5 190.7 L452.15 190.7 L453.8 190.7 L455.45 190.7 L457.1 190.7 L458.75 190.7 L460.4 190.7 L462.05 190.7 L463.7 190.7 L465.35 190.7 L467 190.7 L468.65 190.7 L470.3 190.7 L471.95 190.7 L473.6 190.7 L475.25 190.7 L476.3 190.7 L477.95 162.79 L479.6 145.65 L481.25 123.15 L482.9 96.61 L484.55 68.94 L486.2 44.33 L487.85 27.23 L489.5 21.1 L491.15 27.23 L492.8 44.33 L494.45 68.94 L496.1 96.61 L497.75 123.15 L499.4 145.65 L501.05 162.79 L502.7 174.63 L504.6 190.7 L506.2 190.7 L507.85 190.7 L509.5 190.7 L511.15 190.7 L512.8 190.7 L514.45 190.7 L516.1 190.7 L517.75 190.7 L519.4 190.7" fill="none" stroke="#ff8000" stroke-width="1.1" stroke-linejoin="round"/><g fill="#ff8000"><circle cx="356.5" cy="185.44" r="1.45"/><circle cx="358.7" cy="182.73" r="1.45"/><circle cx="360.9" cy="180.52" r="1.45"/><circle cx="362.5" cy="177.81" r="1.45"/><circle cx="364.2" cy="175.1" r="1.45"/><circle cx="365.8" cy="171.37" r="1.45"/><circle cx="367.4" cy="167.46" r="1.45"/><circle cx="369.1" cy="164.24" r="1.45"/><circle cx="371.3" cy="160.85" r="1.45"/><circle cx="373.4" cy="159.32" r="1.45"/><circle cx="374.9" cy="158.9" r="1.45"/><circle cx="376.7" cy="159.83" r="1.45"/><circle cx="378.1" cy="161.53" r="1.45"/><circle cx="379.4" cy="163.56" r="1.45"/><circle cx="381.1" cy="166.45" r="1.45"/><circle cx="382.7" cy="169.67" r="1.45"/><circle cx="384.4" cy="172.89" r="1.45"/><circle cx="386" cy="176.28" r="1.45"/><circle cx="387.6" cy="179.34" r="1.45"/><circle cx="389.8" cy="183.24" r="1.45"/><circle cx="392" cy="179.34" r="1.45"/><circle cx="393.1" cy="185.95" r="1.45"/><circle cx="394.2" cy="187.14" r="1.45"/><circle cx="395.8" cy="187.14" r="1.45"/><circle cx="414.5" cy="182.05" r="1.45"/><circle cx="416" cy="181.2" r="1.45"/><circle cx="417.5" cy="180.52" r="1.45"/><circle cx="419" cy="180.02" r="1.45"/><circle cx="420.4" cy="179.51" r="1.45"/><circle cx="422" cy="180.02" r="1.45"/><circle cx="423.3" cy="180.52" r="1.45"/><circle cx="425.1" cy="181.71" r="1.45"/><circle cx="425.8" cy="186.8" r="1.45"/><circle cx="428" cy="186.46" r="1.45"/><circle cx="477.95" cy="162.79" r="1.45"/><circle cx="479.6" cy="145.65" r="1.45"/><circle cx="481.25" cy="123.15" r="1.45"/><circle cx="482.9" cy="96.61" r="1.45"/><circle cx="484.55" cy="68.94" r="1.45"/><circle cx="486.2" cy="44.33" r="1.45"/><circle cx="487.85" cy="27.23" r="1.45"/><circle cx="489.5" cy="21.1" r="1.45"/><circle cx="491.15" cy="27.23" r="1.45"/><circle cx="492.8" cy="44.33" r="1.45"/><circle cx="494.45" cy="68.94" r="1.45"/><circle cx="496.1" cy="96.61" r="1.45"/><circle cx="497.75" cy="123.15" r="1.45"/><circle cx="499.4" cy="145.65" r="1.45"/><circle cx="501.05" cy="162.79" r="1.45"/><circle cx="502.7" cy="174.63" r="1.45"/></g><path d="M343.7 190.7 L345 190.7 L346.3 190.7 L346.6 174.93 L347.2 173.4 L348.4 172.47 L349.1 170.03 L349.8 167.35 L350.5 164.42 L351.2 161.22 L351.9 157.76 L352.6 154.02 L353.3 150.01 L354 145.72 L354.7 141.17 L355.4 136.35 L356.1 131.28 L356.8 125.97 L357.5 120.44 L358.2 114.72 L358.9 108.83 L359.6 102.8 L360.3 96.68 L361 90.49 L361.7 84.29 L362.4 78.11 L363.1 72 L363.8 66.02 L364.5 60.22 L365.2 54.64 L365.9 49.33 L366.6 44.36 L367.3 39.76 L368 35.58 L368.7 31.86 L369.4 28.65 L370.1 25.97 L370.8 23.86 L371.5 22.33 L372.2 21.41 L372.9 21.1 L373.6 21.36 L374.3 22.14 L375 23.44 L375.7 25.24 L376.4 27.52 L377.1 30.27 L377.8 33.45 L378.5 37.05 L379.2 41.03 L379.9 45.35 L380.6 49.99 L381.3 54.89 L382 60.03 L382.7 65.37 L383.4 70.85 L384.1 76.45 L384.8 82.12 L385.5 87.83 L386.2 93.54 L386.9 99.22 L387.6 104.83 L388.3 110.34 L389 115.73 L389.7 120.98 L390.4 126.05 L391.1 130.95 L391.8 135.64 L392.5 140.12 L393.2 144.38 L393.9 148.41 L394.6 152.21 L395.3 155.78 L396 159.11 L396.7 162.21 L397.4 165.09 L398.1 167.75 L398.8 170.19 L399.5 172.43 L400.2 174.48 L400.9 176.34 L401.6 178.03 L402.3 179.55 L403.3 190.7" fill="none" stroke="#ff0a84" stroke-width="1.1" stroke-linejoin="round"/><g fill="#ff0a84"><circle cx="346.6" cy="174.93" r="1.35"/><circle cx="347.2" cy="173.4" r="1.35"/><circle cx="348.4" cy="172.47" r="1.35"/><circle cx="349.1" cy="170.03" r="1.35"/><circle cx="349.8" cy="167.35" r="1.35"/><circle cx="350.5" cy="164.42" r="1.35"/><circle cx="351.2" cy="161.22" r="1.35"/><circle cx="351.9" cy="157.76" r="1.35"/><circle cx="352.6" cy="154.02" r="1.35"/><circle cx="353.3" cy="150.01" r="1.35"/><circle cx="354" cy="145.72" r="1.35"/><circle cx="354.7" cy="141.17" r="1.35"/><circle cx="355.4" cy="136.35" r="1.35"/><circle cx="356.1" cy="131.28" r="1.35"/><circle cx="356.8" cy="125.97" r="1.35"/><circle cx="357.5" cy="120.44" r="1.35"/><circle cx="358.2" cy="114.72" r="1.35"/><circle cx="358.9" cy="108.83" r="1.35"/><circle cx="359.6" cy="102.8" r="1.35"/><circle cx="360.3" cy="96.68" r="1.35"/><circle cx="361" cy="90.49" r="1.35"/><circle cx="361.7" cy="84.29" r="1.35"/><circle cx="362.4" cy="78.11" r="1.35"/><circle cx="363.1" cy="72" r="1.35"/><circle cx="363.8" cy="66.02" r="1.35"/><circle cx="364.5" cy="60.22" r="1.35"/><circle cx="365.2" cy="54.64" r="1.35"/><circle cx="365.9" cy="49.33" r="1.35"/><circle cx="366.6" cy="44.36" r="1.35"/><circle cx="367.3" cy="39.76" r="1.35"/><circle cx="368" cy="35.58" r="1.35"/><circle cx="368.7" cy="31.86" r="1.35"/><circle cx="369.4" cy="28.65" r="1.35"/><circle cx="370.1" cy="25.97" r="1.35"/><circle cx="370.8" cy="23.86" r="1.35"/><circle cx="371.5" cy="22.33" r="1.35"/><circle cx="372.2" cy="21.41" r="1.35"/><circle cx="372.9" cy="21.1" r="1.35"/><circle cx="373.6" cy="21.36" r="1.35"/><circle cx="374.3" cy="22.14" r="1.35"/><circle cx="375" cy="23.44" r="1.35"/><circle cx="375.7" cy="25.24" r="1.35"/><circle cx="376.4" cy="27.52" r="1.35"/><circle cx="377.1" cy="30.27" r="1.35"/><circle cx="377.8" cy="33.45" r="1.35"/><circle cx="378.5" cy="37.05" r="1.35"/><circle cx="379.2" cy="41.03" r="1.35"/><circle cx="379.9" cy="45.35" r="1.35"/><circle cx="380.6" cy="49.99" r="1.35"/><circle cx="381.3" cy="54.89" r="1.35"/><circle cx="382" cy="60.03" r="1.35"/><circle cx="382.7" cy="65.37" r="1.35"/><circle cx="383.4" cy="70.85" r="1.35"/><circle cx="384.1" cy="76.45" r="1.35"/><circle cx="384.8" cy="82.12" r="1.35"/><circle cx="385.5" cy="87.83" r="1.35"/><circle cx="386.2" cy="93.54" r="1.35"/><circle cx="386.9" cy="99.22" r="1.35"/><circle cx="387.6" cy="104.83" r="1.35"/><circle cx="388.3" cy="110.34" r="1.35"/><circle cx="389" cy="115.73" r="1.35"/><circle cx="389.7" cy="120.98" r="1.35"/><circle cx="390.4" cy="126.05" r="1.35"/><circle cx="391.1" cy="130.95" r="1.35"/><circle cx="391.8" cy="135.64" r="1.35"/><circle cx="392.5" cy="140.12" r="1.35"/><circle cx="393.2" cy="144.38" r="1.35"/><circle cx="393.9" cy="148.41" r="1.35"/><circle cx="394.6" cy="152.21" r="1.35"/><circle cx="395.3" cy="155.78" r="1.35"/><circle cx="396" cy="159.11" r="1.35"/><circle cx="396.7" cy="162.21" r="1.35"/><circle cx="397.4" cy="165.09" r="1.35"/><circle cx="398.1" cy="167.75" r="1.35"/><circle cx="398.8" cy="170.19" r="1.35"/><circle cx="399.5" cy="172.43" r="1.35"/><circle cx="400.2" cy="174.48" r="1.35"/><circle cx="400.9" cy="176.34" r="1.35"/><circle cx="401.6" cy="178.03" r="1.35"/><circle cx="402.3" cy="179.55" r="1.35"/></g><path d="M347.5 190.7 L349 190.7 L350.5 190.7 L352 190.7 L353.5 190.7 L355 190.7 L356.5 190.7 L358 190.7 L359.5 190.7 L361 190.7 L362.5 190.7 L364 190.7 L365.5 190.7 L367 190.7 L368.5 190.7 L370 190.7 L371.5 190.7 L373 190.7 L374.5 190.7 L376 190.7 L377.5 190.7 L379 190.7 L380.5 190.7 L382 190.7 L383.5 190.7 L385 190.7 L386.5 190.7 L388 190.7 L389.5 190.7 L391 190.7 L392.5 190.7 L394 190.7 L395.5 190.7 L397 190.7 L398.5 190.7 L400 190.7 L401.5 190.7 L403 190.7 L404.5 190.7 L406.5 190.7 L408 154.71 L409.2 135.64 L410.4 111.99 L411.6 85.6 L412.8 59.58 L414 37.88 L415.2 24.32 L416.4 21.46 L417.6 29.88 L418.8 47.94 L420 72.3 L421.2 98.97 L422.4 124.31 L423.6 145.81 L424.8 162.34 L426 173.96 L427.2 190.7" fill="none" stroke="#111" stroke-width="1.1" stroke-linejoin="round"/><g fill="#111"><circle cx="408" cy="154.71" r="1.35"/><circle cx="409.2" cy="135.64" r="1.35"/><circle cx="410.4" cy="111.99" r="1.35"/><circle cx="411.6" cy="85.6" r="1.35"/><circle cx="412.8" cy="59.58" r="1.35"/><circle cx="414" cy="37.88" r="1.35"/><circle cx="415.2" cy="24.32" r="1.35"/><circle cx="416.4" cy="21.46" r="1.35"/><circle cx="417.6" cy="29.88" r="1.35"/><circle cx="418.8" cy="47.94" r="1.35"/><circle cx="420" cy="72.3" r="1.35"/><circle cx="421.2" cy="98.97" r="1.35"/><circle cx="422.4" cy="124.31" r="1.35"/><circle cx="423.6" cy="145.81" r="1.35"/><circle cx="424.8" cy="162.34" r="1.35"/><circle cx="426" cy="173.96" r="1.35"/></g><path d="M347.8 190.7 L348.8 190.7 L349.8 190.7 L350.8 190.7 L351.8 190.7 L352.8 190.7 L353.8 190.7 L354.8 190.7 L355.8 190.7 L356.8 190.7 L357.8 190.7 L358.8 190.7 L359.8 190.7 L360.8 190.7 L361.8 190.7 L362.8 190.7 L363.8 190.7 L364.8 190.7 L365.8 190.7 L366.8 190.7 L367.8 190.7 L368.8 190.7 L369.8 190.7 L370.8 190.7 L371.8 190.7 L372.8 190.7 L373.8 190.7 L374.8 190.7 L375.8 190.7 L376.8 190.7 L377.8 190.7 L378.8 190.7 L379.8 190.7 L380.8 190.7 L381.8 190.7 L382.8 190.7 L383.8 190.7 L384.8 190.7 L385.8 190.7 L386.8 190.7 L387.8 190.7 L388.8 190.7 L389.8 190.7 L390.8 190.7 L391.8 190.7 L392.8 190.7 L393.8 190.7 L394.8 190.7 L395.8 190.7 L396.8 190.7 L397.8 190.7 L398.8 190.7 L399.8 190.7 L400.8 190.7 L401.8 190.7 L402.8 190.7 L403.8 190.7 L404.8 190.7 L405.8 190.7 L405.9 190.7 L406.6 159.31 L407.6 145.97 L408.6 129.57 L409.6 110.56 L410.6 89.93 L411.6 69.16 L412.6 50.09 L413.6 34.66 L414.6 24.6 L415.6 21.1 L416.6 24.6 L417.6 34.66 L418.6 50.09 L419.6 69.16 L420.6 89.93 L421.6 110.56 L422.6 129.57 L423.6 145.97 L424.6 159.31 L425.6 169.56 L426.5 190.7 L427.5 190.7 L428.5 190.7 L429.5 190.7 L430.5 190.7 L431.5 190.7 L432.5 190.7 L433.5 190.7 L434.5 190.7 L435.5 190.7 L436.5 190.7 L437.5 190.7 L438.5 190.7 L439.5 190.7 L440.5 190.7 L441.5 190.7 L442.5 190.7 L443.5 190.7 L444.5 190.7 L445.5 190.7 L446.5 190.7 L447.5 190.7 L448.5 190.7 L449.5 190.7 L450.5 190.7 L451.5 190.7 L452.5 190.7 L453.3 190.7" fill="none" stroke="#0a14ff" stroke-width="1.1" stroke-linejoin="round"/><g fill="#0a14ff"><circle cx="406.6" cy="159.31" r="1.4"/><circle cx="407.6" cy="145.97" r="1.4"/><circle cx="408.6" cy="129.57" r="1.4"/><circle cx="409.6" cy="110.56" r="1.4"/><circle cx="410.6" cy="89.93" r="1.4"/><circle cx="411.6" cy="69.16" r="1.4"/><circle cx="412.6" cy="50.09" r="1.4"/><circle cx="413.6" cy="34.66" r="1.4"/><circle cx="414.6" cy="24.6" r="1.4"/><circle cx="415.6" cy="21.1" r="1.4"/><circle cx="416.6" cy="24.6" r="1.4"/><circle cx="417.6" cy="34.66" r="1.4"/><circle cx="418.6" cy="50.09" r="1.4"/><circle cx="419.6" cy="69.16" r="1.4"/><circle cx="420.6" cy="89.93" r="1.4"/><circle cx="421.6" cy="110.56" r="1.4"/><circle cx="422.6" cy="129.57" r="1.4"/><circle cx="423.6" cy="145.97" r="1.4"/><circle cx="424.6" cy="159.31" r="1.4"/><circle cx="425.6" cy="169.56" r="1.4"/></g><path d="M313.4 190.7v3.7M332.15 190.7v2M343.12 190.7v2M350.91 190.7v2M356.95 190.7v2M361.88 190.7v2M366.05 190.7v2M369.66 190.7v2M372.85 190.7v2M375.7 190.7v3.7M394.45 190.7v2M405.42 190.7v2M413.21 190.7v2M419.25 190.7v2M424.18 190.7v2M428.35 190.7v2M431.96 190.7v2M435.15 190.7v2M438 190.7v3.7M456.75 190.7v2M467.72 190.7v2M475.51 190.7v2M481.55 190.7v2M486.48 190.7v2M490.65 190.7v2M494.26 190.7v2M497.45 190.7v2M500.3 190.7v3.7M519.05 190.7v2M530.02 190.7v2M537.81 190.7v2M543.85 190.7v2" stroke="#333" stroke-width="0.9" fill="none"/><text x="313.4" y="202.9" text-anchor="middle" font-size="7.5">1</text><text x="375.7" y="202.9" text-anchor="middle" font-size="7.5">10</text><text x="438" y="202.9" text-anchor="middle" font-size="7.5">100</text><text x="500.3" y="202.9" text-anchor="middle" font-size="7.5">1000</text><path d="M313.4 190.7h-3.7M313.4 156.78h-3.7M313.4 122.86h-3.7M313.4 88.94h-3.7M313.4 55.02h-3.7M313.4 21.1h-3.7M313.4 173.74h-2M313.4 139.82h-2M313.4 105.9h-2M313.4 71.98h-2M313.4 38.06h-2" stroke="#333" stroke-width="0.9" fill="none"/><text x="307.8" y="193.4" text-anchor="end" font-size="7.5">0</text><text x="307.8" y="159.48" text-anchor="end" font-size="7.5">20</text><text x="307.8" y="125.56" text-anchor="end" font-size="7.5">40</text><text x="307.8" y="91.64" text-anchor="end" font-size="7.5">60</text><text x="307.8" y="57.72" text-anchor="end" font-size="7.5">80</text><text x="307.8" y="23.8" text-anchor="end" font-size="7.5">100</text><rect x="316.5" y="235.6" width="227.86" height="170" fill="none" stroke="#333" stroke-width="1.1"/><path d="M324.3 405.6 L326 405.6 L328.6 405.6 L331.7 387.82 L333.4 383.19 L335.1 377.71 L336.8 371.32 L338.5 363.98 L340.2 355.7 L341.9 346.52 L343.6 336.53 L345.3 325.84 L347 314.64 L348.7 303.17 L350.4 291.68 L352.1 280.47 L353.8 269.87 L355.5 260.21 L357.2 251.79 L358.9 244.9 L360.6 239.8 L362.3 236.66 L364 235.6 L365.7 236.63 L367.4 239.69 L369.1 244.67 L370.8 251.39 L372.5 259.62 L374.2 269.08 L375.9 279.48 L377.6 290.49 L379.3 301.82 L381 313.17 L382.7 324.27 L384.4 334.9 L386.1 344.89 L387.8 354.1 L389.5 362.44 L391.2 369.87 L392.9 376.38 L394.6 381.99 L396.3 386.75 L398.2 399.14 L400.7 399.14 L402.3 405.6 L404 405.6 L405.7 405.6 L407.4 405.6 L409.1 405.6 L410.8 405.6 L412.5 405.6 L414.2 405.6 L415.9 405.6 L417.6 405.6 L419.3 405.6 L421 405.6 L422.7 405.6 L424.4 405.6 L426.1 405.6 L427.8 405.6 L428.8 405.6 L430.5 396.93 L432.2 394.57 L433.9 391.76 L435.6 388.47 L437.3 384.69 L439 380.43 L440.7 375.71 L442.4 370.59 L444.1 365.16 L445.8 359.52 L447.5 353.81 L449.2 348.18 L450.9 342.81 L452.6 337.88 L454.3 333.56 L456 330.01 L457.7 327.37 L459.4 325.74 L461.1 325.19 L462.8 325.64 L464.5 326.99 L466.2 329.17 L467.9 332.13 L469.6 335.77 L471.3 339.98 L473 344.62 L474.7 349.57 L476.4 354.7 L478.1 359.87 L479.8 364.98 L481.5 369.93 L483.2 374.62 L484.9 379 L486.6 383.02 L488.3 386.64 L490 389.87 L491.7 392.69 L493.4 395.12 L496 405.6" fill="none" stroke="#ff0a84" stroke-width="1.1" stroke-linejoin="round"/><g fill="#ff0a84"><circle cx="331.7" cy="387.82" r="1.45"/><circle cx="333.4" cy="383.19" r="1.45"/><circle cx="335.1" cy="377.71" r="1.45"/><circle cx="336.8" cy="371.32" r="1.45"/><circle cx="338.5" cy="363.98" r="1.45"/><circle cx="340.2" cy="355.7" r="1.45"/><circle cx="341.9" cy="346.52" r="1.45"/><circle cx="343.6" cy="336.53" r="1.45"/><circle cx="345.3" cy="325.84" r="1.45"/><circle cx="347" cy="314.64" r="1.45"/><circle cx="348.7" cy="303.17" r="1.45"/><circle cx="350.4" cy="291.68" r="1.45"/><circle cx="352.1" cy="280.47" r="1.45"/><circle cx="353.8" cy="269.87" r="1.45"/><circle cx="355.5" cy="260.21" r="1.45"/><circle cx="357.2" cy="251.79" r="1.45"/><circle cx="358.9" cy="244.9" r="1.45"/><circle cx="360.6" cy="239.8" r="1.45"/><circle cx="362.3" cy="236.66" r="1.45"/><circle cx="364" cy="235.6" r="1.45"/><circle cx="365.7" cy="236.63" r="1.45"/><circle cx="367.4" cy="239.69" r="1.45"/><circle cx="369.1" cy="244.67" r="1.45"/><circle cx="370.8" cy="251.39" r="1.45"/><circle cx="372.5" cy="259.62" r="1.45"/><circle cx="374.2" cy="269.08" r="1.45"/><circle cx="375.9" cy="279.48" r="1.45"/><circle cx="377.6" cy="290.49" r="1.45"/><circle cx="379.3" cy="301.82" r="1.45"/><circle cx="381" cy="313.17" r="1.45"/><circle cx="382.7" cy="324.27" r="1.45"/><circle cx="384.4" cy="334.9" r="1.45"/><circle cx="386.1" cy="344.89" r="1.45"/><circle cx="387.8" cy="354.1" r="1.45"/><circle cx="389.5" cy="362.44" r="1.45"/><circle cx="391.2" cy="369.87" r="1.45"/><circle cx="392.9" cy="376.38" r="1.45"/><circle cx="394.6" cy="381.99" r="1.45"/><circle cx="396.3" cy="386.75" r="1.45"/><circle cx="398.2" cy="399.14" r="1.45"/><circle cx="400.7" cy="399.14" r="1.45"/><circle cx="430.5" cy="396.93" r="1.45"/><circle cx="432.2" cy="394.57" r="1.45"/><circle cx="433.9" cy="391.76" r="1.45"/><circle cx="435.6" cy="388.47" r="1.45"/><circle cx="437.3" cy="384.69" r="1.45"/><circle cx="439" cy="380.43" r="1.45"/><circle cx="440.7" cy="375.71" r="1.45"/><circle cx="442.4" cy="370.59" r="1.45"/><circle cx="444.1" cy="365.16" r="1.45"/><circle cx="445.8" cy="359.52" r="1.45"/><circle cx="447.5" cy="353.81" r="1.45"/><circle cx="449.2" cy="348.18" r="1.45"/><circle cx="450.9" cy="342.81" r="1.45"/><circle cx="452.6" cy="337.88" r="1.45"/><circle cx="454.3" cy="333.56" r="1.45"/><circle cx="456" cy="330.01" r="1.45"/><circle cx="457.7" cy="327.37" r="1.45"/><circle cx="459.4" cy="325.74" r="1.45"/><circle cx="461.1" cy="325.19" r="1.45"/><circle cx="462.8" cy="325.64" r="1.45"/><circle cx="464.5" cy="326.99" r="1.45"/><circle cx="466.2" cy="329.17" r="1.45"/><circle cx="467.9" cy="332.13" r="1.45"/><circle cx="469.6" cy="335.77" r="1.45"/><circle cx="471.3" cy="339.98" r="1.45"/><circle cx="473" cy="344.62" r="1.45"/><circle cx="474.7" cy="349.57" r="1.45"/><circle cx="476.4" cy="354.7" r="1.45"/><circle cx="478.1" cy="359.87" r="1.45"/><circle cx="479.8" cy="364.98" r="1.45"/><circle cx="481.5" cy="369.93" r="1.45"/><circle cx="483.2" cy="374.62" r="1.45"/><circle cx="484.9" cy="379" r="1.45"/><circle cx="486.6" cy="383.02" r="1.45"/><circle cx="488.3" cy="386.64" r="1.45"/><circle cx="490" cy="389.87" r="1.45"/><circle cx="491.7" cy="392.69" r="1.45"/><circle cx="493.4" cy="395.12" r="1.45"/></g><path d="M340.6 405.6 L343 405.6 L345.5 405.6 L347.9 391.59 L350.8 383.94 L353.7 374.27 L356.6 363.24 L359.5 352.04 L362.4 342.27 L365.3 335.57 L368.2 333.18 L371.1 335.26 L374 341.16 L376.9 349.92 L379.8 360.21 L382.7 370.7 L385.6 380.29 L388.5 388.28 L391.4 394.43 L394.2 405.6 L396 405.6 L398.9 405.6 L401.8 405.6 L404.7 405.6 L407.6 405.6 L410.5 405.6 L413.4 405.6 L416.3 405.6 L419.2 405.6 L422.1 405.6 L425 405.6 L427.9 405.6 L430.8 405.6 L433.7 405.6 L436.6 405.6 L439.5 405.6 L442.4 405.6 L445.3 405.6 L446.9 405.6 L450.05 384 L451.8 376.29 L453.55 366.79 L455.3 355.45 L457.05 342.35 L458.8 327.77 L460.55 312.13 L462.3 296.05 L464.05 280.31 L465.8 265.76 L467.55 253.29 L469.3 243.7 L471.05 237.66 L472.8 235.6 L474.55 237.99 L476.3 244.96 L478.05 255.94 L479.8 270.06 L481.55 286.27 L483.3 303.48 L485.05 320.65 L486.8 336.9 L488.55 351.6 L490.3 364.33 L492.05 374.95 L493.8 383.47 L495.55 390.06 L497.3 395 L501.1 401.18 L503 405.6 L505 405.6 L507 405.6 L509 405.6 L511 405.6 L513 405.6 L514.5 405.6" fill="none" stroke="#111" stroke-width="1.1" stroke-linejoin="round"/><g fill="#111"><circle cx="347.9" cy="391.59" r="1.4"/><circle cx="350.8" cy="383.94" r="1.4"/><circle cx="353.7" cy="374.27" r="1.4"/><circle cx="356.6" cy="363.24" r="1.4"/><circle cx="359.5" cy="352.04" r="1.4"/><circle cx="362.4" cy="342.27" r="1.4"/><circle cx="365.3" cy="335.57" r="1.4"/><circle cx="368.2" cy="333.18" r="1.4"/><circle cx="371.1" cy="335.26" r="1.4"/><circle cx="374" cy="341.16" r="1.4"/><circle cx="376.9" cy="349.92" r="1.4"/><circle cx="379.8" cy="360.21" r="1.4"/><circle cx="382.7" cy="370.7" r="1.4"/><circle cx="385.6" cy="380.29" r="1.4"/><circle cx="388.5" cy="388.28" r="1.4"/><circle cx="391.4" cy="394.43" r="1.4"/><circle cx="450.05" cy="384" r="1.4"/><circle cx="451.8" cy="376.29" r="1.4"/><circle cx="453.55" cy="366.79" r="1.4"/><circle cx="455.3" cy="355.45" r="1.4"/><circle cx="457.05" cy="342.35" r="1.4"/><circle cx="458.8" cy="327.77" r="1.4"/><circle cx="460.55" cy="312.13" r="1.4"/><circle cx="462.3" cy="296.05" r="1.4"/><circle cx="464.05" cy="280.31" r="1.4"/><circle cx="465.8" cy="265.76" r="1.4"/><circle cx="467.55" cy="253.29" r="1.4"/><circle cx="469.3" cy="243.7" r="1.4"/><circle cx="471.05" cy="237.66" r="1.4"/><circle cx="472.8" cy="235.6" r="1.4"/><circle cx="474.55" cy="237.99" r="1.4"/><circle cx="476.3" cy="244.96" r="1.4"/><circle cx="478.05" cy="255.94" r="1.4"/><circle cx="479.8" cy="270.06" r="1.4"/><circle cx="481.55" cy="286.27" r="1.4"/><circle cx="483.3" cy="303.48" r="1.4"/><circle cx="485.05" cy="320.65" r="1.4"/><circle cx="486.8" cy="336.9" r="1.4"/><circle cx="488.55" cy="351.6" r="1.4"/><circle cx="490.3" cy="364.33" r="1.4"/><circle cx="492.05" cy="374.95" r="1.4"/><circle cx="493.8" cy="383.47" r="1.4"/><circle cx="495.55" cy="390.06" r="1.4"/><circle cx="497.3" cy="395" r="1.4"/><circle cx="501.1" cy="401.18" r="1.4"/></g><path d="M325.9 405.6 L327.5 405.6 L329.3 405.6 L331.1 405.6 L332.9 405.6 L334.7 405.6 L336.5 405.6 L338.3 405.6 L340.1 405.6 L340.6 405.6 L344.15 378.91 L346.1 371.72 L348.05 363.29 L350 353.62 L351.95 342.79 L353.9 330.94 L355.85 318.31 L357.8 305.2 L359.75 292.01 L361.7 279.19 L363.65 267.21 L365.6 256.57 L367.55 247.74 L369.5 241.1 L371.45 236.99 L373.4 235.6 L375.35 237.39 L377.3 242.65 L379.25 251.05 L381.2 262.09 L383.15 275.14 L385.1 289.48 L387.05 304.41 L389 319.27 L390.95 333.49 L392.9 346.63 L394.85 358.39 L396.8 368.59 L398.75 377.2 L400.7 384.26 L402.65 389.9 L404.6 394.3 L406.55 397.63 L408.4 405.6 L410 405.6 L411.95 405.6 L413.9 405.6 L415.85 405.6 L417.8 405.6 L419.75 405.6 L421.7 405.6 L423.65 405.6 L425.6 405.6 L427.55 405.6 L429.5 405.6 L431.45 405.6 L433.4 405.6 L435.35 405.6 L437.3 405.6 L439.25 405.6 L441.2 405.6 L443.15 405.6 L445.1 405.6 L447.05 405.6 L449 405.6 L450.95 405.6 L452.2 405.6 L455.05 380.84 L457 375.7 L458.95 369.96 L460.9 363.67 L462.85 356.91 L464.8 349.79 L466.75 342.45 L468.7 335.07 L470.65 327.84 L472.6 320.99 L474.55 314.71 L476.5 309.24 L478.45 304.75 L480.4 301.42 L482.35 299.36 L484.3 298.67 L486.25 299.36 L488.2 301.42 L490.15 304.75 L492.1 309.24 L494.05 314.71 L496 320.99 L497.95 327.84 L499.9 335.07 L501.85 342.45 L503.8 349.79 L505.75 356.91 L507.7 363.67 L509.65 369.96 L511.6 375.7 L513.55 380.84 L515.5 385.36 L517.45 389.27 L519.5 405.6" fill="none" stroke="#0a14ff" stroke-width="1.1" stroke-linejoin="round"/><g fill="#0a14ff"><circle cx="344.15" cy="378.91" r="1.45"/><circle cx="346.1" cy="371.72" r="1.45"/><circle cx="348.05" cy="363.29" r="1.45"/><circle cx="350" cy="353.62" r="1.45"/><circle cx="351.95" cy="342.79" r="1.45"/><circle cx="353.9" cy="330.94" r="1.45"/><circle cx="355.85" cy="318.31" r="1.45"/><circle cx="357.8" cy="305.2" r="1.45"/><circle cx="359.75" cy="292.01" r="1.45"/><circle cx="361.7" cy="279.19" r="1.45"/><circle cx="363.65" cy="267.21" r="1.45"/><circle cx="365.6" cy="256.57" r="1.45"/><circle cx="367.55" cy="247.74" r="1.45"/><circle cx="369.5" cy="241.1" r="1.45"/><circle cx="371.45" cy="236.99" r="1.45"/><circle cx="373.4" cy="235.6" r="1.45"/><circle cx="375.35" cy="237.39" r="1.45"/><circle cx="377.3" cy="242.65" r="1.45"/><circle cx="379.25" cy="251.05" r="1.45"/><circle cx="381.2" cy="262.09" r="1.45"/><circle cx="383.15" cy="275.14" r="1.45"/><circle cx="385.1" cy="289.48" r="1.45"/><circle cx="387.05" cy="304.41" r="1.45"/><circle cx="389" cy="319.27" r="1.45"/><circle cx="390.95" cy="333.49" r="1.45"/><circle cx="392.9" cy="346.63" r="1.45"/><circle cx="394.85" cy="358.39" r="1.45"/><circle cx="396.8" cy="368.59" r="1.45"/><circle cx="398.75" cy="377.2" r="1.45"/><circle cx="400.7" cy="384.26" r="1.45"/><circle cx="402.65" cy="389.9" r="1.45"/><circle cx="404.6" cy="394.3" r="1.45"/><circle cx="406.55" cy="397.63" r="1.45"/><circle cx="455.05" cy="380.84" r="1.45"/><circle cx="457" cy="375.7" r="1.45"/><circle cx="458.95" cy="369.96" r="1.45"/><circle cx="460.9" cy="363.67" r="1.45"/><circle cx="462.85" cy="356.91" r="1.45"/><circle cx="464.8" cy="349.79" r="1.45"/><circle cx="466.75" cy="342.45" r="1.45"/><circle cx="468.7" cy="335.07" r="1.45"/><circle cx="470.65" cy="327.84" r="1.45"/><circle cx="472.6" cy="320.99" r="1.45"/><circle cx="474.55" cy="314.71" r="1.45"/><circle cx="476.5" cy="309.24" r="1.45"/><circle cx="478.45" cy="304.75" r="1.45"/><circle cx="480.4" cy="301.42" r="1.45"/><circle cx="482.35" cy="299.36" r="1.45"/><circle cx="484.3" cy="298.67" r="1.45"/><circle cx="486.25" cy="299.36" r="1.45"/><circle cx="488.2" cy="301.42" r="1.45"/><circle cx="490.15" cy="304.75" r="1.45"/><circle cx="492.1" cy="309.24" r="1.45"/><circle cx="494.05" cy="314.71" r="1.45"/><circle cx="496" cy="320.99" r="1.45"/><circle cx="497.95" cy="327.84" r="1.45"/><circle cx="499.9" cy="335.07" r="1.45"/><circle cx="501.85" cy="342.45" r="1.45"/><circle cx="503.8" cy="349.79" r="1.45"/><circle cx="505.75" cy="356.91" r="1.45"/><circle cx="507.7" cy="363.67" r="1.45"/><circle cx="509.65" cy="369.96" r="1.45"/><circle cx="511.6" cy="375.7" r="1.45"/><circle cx="513.55" cy="380.84" r="1.45"/><circle cx="515.5" cy="385.36" r="1.45"/><circle cx="517.45" cy="389.27" r="1.45"/></g><path d="M316.5 405.6v3.7M335.04 405.6v2M345.89 405.6v2M353.59 405.6v2M359.56 405.6v2M364.43 405.6v2M368.56 405.6v2M372.13 405.6v2M375.28 405.6v2M378.1 405.6v3.7M396.64 405.6v2M407.49 405.6v2M415.19 405.6v2M421.16 405.6v2M426.03 405.6v2M430.16 405.6v2M433.73 405.6v2M436.88 405.6v2M439.7 405.6v3.7M458.24 405.6v2M469.09 405.6v2M476.79 405.6v2M482.76 405.6v2M487.63 405.6v2M491.76 405.6v2M495.33 405.6v2M498.48 405.6v2M501.3 405.6v3.7M519.84 405.6v2M530.69 405.6v2M538.39 405.6v2M544.36 405.6v2" stroke="#333" stroke-width="0.9" fill="none"/><text x="316.5" y="417.8" text-anchor="middle" font-size="7.5">1</text><text x="378.1" y="417.8" text-anchor="middle" font-size="7.5">10</text><text x="439.7" y="417.8" text-anchor="middle" font-size="7.5">100</text><text x="501.3" y="417.8" text-anchor="middle" font-size="7.5">1000</text><path d="M316.5 405.6h-3.7M316.5 371.6h-3.7M316.5 337.6h-3.7M316.5 303.6h-3.7M316.5 269.6h-3.7M316.5 235.6h-3.7M316.5 388.6h-2M316.5 354.6h-2M316.5 320.6h-2M316.5 286.6h-2M316.5 252.6h-2" stroke="#333" stroke-width="0.9" fill="none"/><text x="310.9" y="408.3" text-anchor="end" font-size="7.5">0</text><text x="310.9" y="374.3" text-anchor="end" font-size="7.5">20</text><text x="310.9" y="340.3" text-anchor="end" font-size="7.5">40</text><text x="310.9" y="306.3" text-anchor="end" font-size="7.5">60</text><text x="310.9" y="272.3" text-anchor="end" font-size="7.5">80</text><text x="310.9" y="238.3" text-anchor="end" font-size="7.5">100</text><rect x="229.2" y="27.8" width="2.6" height="2.6" fill="none" stroke="#ff3d9e" stroke-width="0.7"/><text x="241.8" y="31.8" font-size="8.2">60 °C</text><rect x="229.2" y="39.1" width="2.6" height="2.6" fill="none" stroke="#ff9a3a" stroke-width="0.7"/><text x="241.8" y="43.1" font-size="8.2">40 °C</text><circle cx="230.5" cy="51.8" r="1.4" fill="none" stroke="#444" stroke-width="0.7"/><text x="241.8" y="54.5" font-size="8.2">25 °C</text><rect x="229.2" y="61.8" width="2.6" height="2.6" fill="none" stroke="#3333ff" stroke-width="0.7"/><text x="241.8" y="65.8" font-size="8.2">12 °C</text><path d="M316.6 28.7H335.4" stroke="#ff0a84" stroke-width="0.9"/><circle cx="326" cy="28.7" r="1.2" fill="#ff0a84"/><text x="337.6" y="31.4" font-size="8.2">60 °C</text><path d="M316.6 40.1H335.4" stroke="#ff8000" stroke-width="0.9"/><circle cx="326" cy="40.1" r="1.2" fill="#ff8000"/><text x="337.6" y="42.8" font-size="8.2">40 °C</text><path d="M316.6 51.7H335.4" stroke="#111" stroke-width="0.9"/><circle cx="326" cy="51.7" r="1.2" fill="#111"/><text x="337.6" y="54.4" font-size="8.2">25 °C</text><path d="M316.6 63.1H335.4" stroke="#0a14ff" stroke-width="0.9"/><circle cx="326" cy="63.1" r="1.2" fill="#0a14ff"/><text x="337.6" y="65.8" font-size="8.2">12 °C</text><rect x="230.1" y="244" width="2.6" height="2.6" fill="none" stroke="#ff3d9e" stroke-width="0.7"/><text x="243.4" y="248" font-size="8.2">60 °C</text><circle cx="231.4" cy="256.5" r="1.4" fill="none" stroke="#444" stroke-width="0.7"/><text x="243.4" y="259.2" font-size="8.2">25 °C</text><circle cx="231.4" cy="268" r="1.4" fill="none" stroke="#3333ff" stroke-width="0.7"/><text x="243.4" y="270.7" font-size="8.2">12 °C</text><path d="M499.3 244.8H517.3" stroke="#ff0a84" stroke-width="0.9"/><circle cx="508.3" cy="244.8" r="1.2" fill="#ff0a84"/><text x="520" y="247.5" font-size="8.2">60 °C</text><path d="M499.3 255.7H517.3" stroke="#111" stroke-width="0.9"/><circle cx="508.3" cy="255.7" r="1.2" fill="#111"/><text x="520" y="258.4" font-size="8.2">25 °C</text><path d="M499.3 266.6H517.3" stroke="#0a14ff" stroke-width="0.9"/><circle cx="508.3" cy="266.6" r="1.2" fill="#0a14ff"/><text x="520" y="269.3" font-size="8.2">12 °C</text><text transform="translate(13.8,113.4) rotate(-90)" text-anchor="middle" font-size="9.3">β<tspan font-size="5.3" dy="-5">-1</tspan><tspan dy="5">(g</tspan><tspan font-size="5.3" dy="-5">(2)</tspan><tspan dy="5">-1)</tspan></text><text transform="translate(16.1,327.7) rotate(-90)" text-anchor="middle" font-size="9.3">β<tspan font-size="5.3" dy="-5">-1</tspan><tspan dy="5">(g</tspan><tspan font-size="5.3" dy="-5">(2)</tspan><tspan dy="5">-1)</tspan></text><text transform="translate(290.2,111.1) rotate(-90)" text-anchor="middle" font-size="9.5">Intensity (a.u.)</text><text transform="translate(294.3,326.3) rotate(-90)" text-anchor="middle" font-size="9.5">Intensity (a.u.)</text><text x="153" y="218.3" text-anchor="middle" font-size="9.5">t (µs)</text><text x="154.8" y="433" text-anchor="middle" font-size="9.5">t (µs)</text><text x="428.55" y="216.8" text-anchor="middle" font-size="9.3">Hydrodynamic Radius (nm)</text><text x="430.55" y="430.5" text-anchor="middle" font-size="8.9">Hydrodynamic Radius (nm)</text><text x="4.6" y="14.2" font-size="11">(a)</text><text x="282.8" y="14.2" font-size="11">(b)</text><text x="5.6" y="229.8" font-size="11">(c)</text><text x="282.3" y="230.0" font-size="11">(d)</text></svg>
</body></html>
